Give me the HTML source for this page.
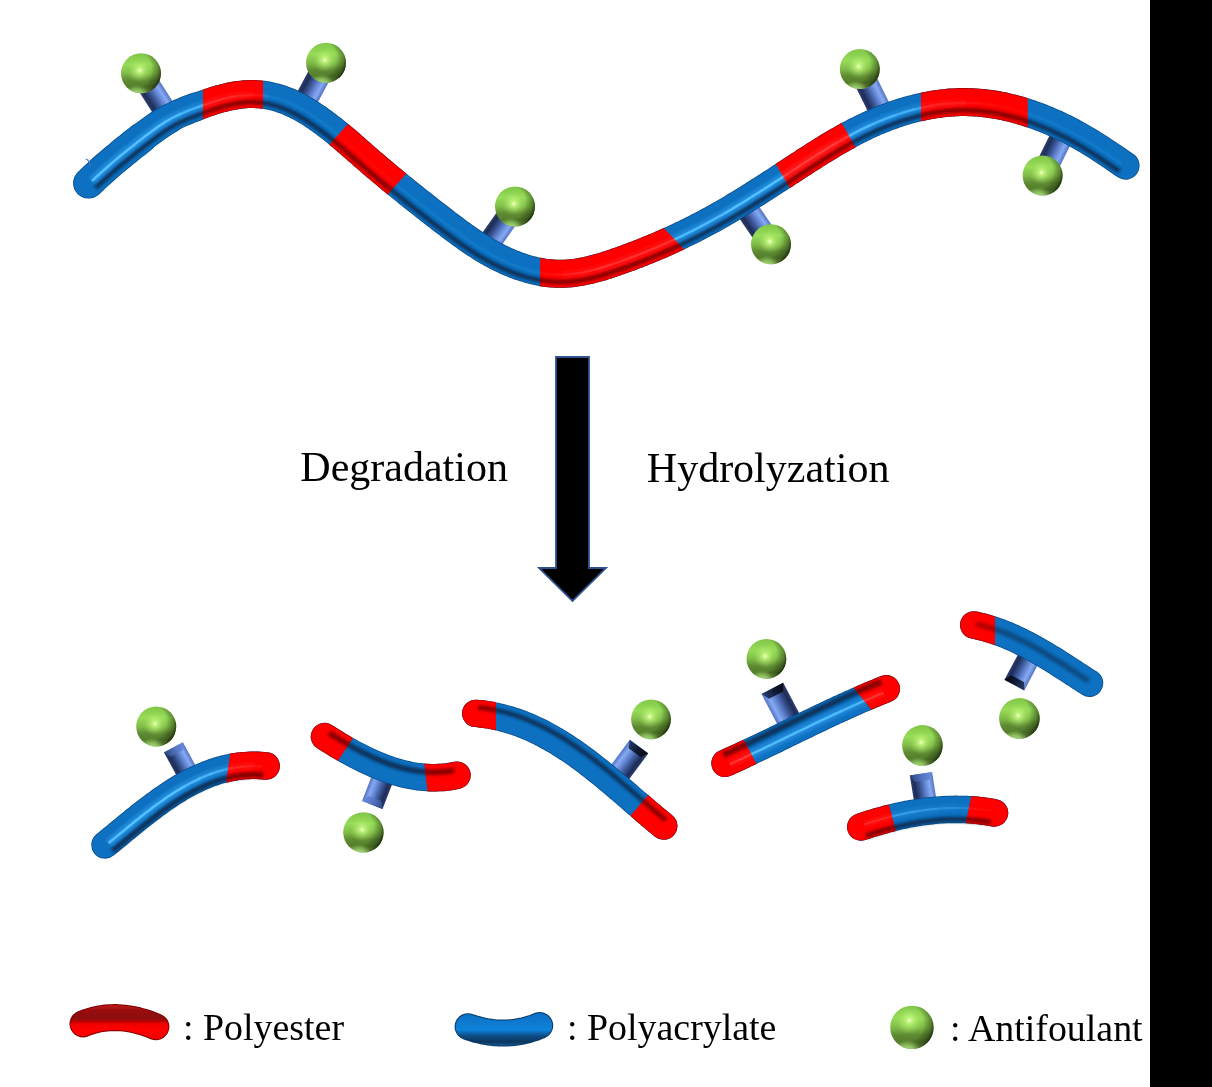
<!DOCTYPE html>
<html><head><meta charset="utf-8"><style>
html,body{margin:0;padding:0;background:#fff;}
body{width:1212px;height:1087px;overflow:hidden;position:relative;}
svg{position:absolute;left:0;top:0;}
text{font-family:"Liberation Serif",serif;fill:#000;}
</style></head><body>
<svg width="1212" height="1087" viewBox="0 0 1212 1087">
<defs>
<filter id="bl1" filterUnits="userSpaceOnUse" x="0" y="0" width="1212" height="1087"><feGaussianBlur stdDeviation="1.6"/></filter>
<filter id="bl05" filterUnits="userSpaceOnUse" x="0" y="0" width="1212" height="1087"><feGaussianBlur stdDeviation="0.6"/></filter>
<linearGradient id="gbA" x1="0" y1="0" x2="0" y2="1">
  <stop offset="0" stop-color="#82c648"/>
  <stop offset="0.28" stop-color="#96dc58"/>
  <stop offset="0.5" stop-color="#80bc48"/>
  <stop offset="0.68" stop-color="#5e8a32"/>
  <stop offset="0.84" stop-color="#557e2c"/>
  <stop offset="0.93" stop-color="#7cae4a"/>
  <stop offset="1" stop-color="#b4e484"/>
</linearGradient>
<radialGradient id="gbB" cx="0.3" cy="0.4" r="0.76">
  <stop offset="0" stop-color="#000" stop-opacity="0"/>
  <stop offset="0.6" stop-color="#0a1400" stop-opacity="0"/>
  <stop offset="0.84" stop-color="#1a2a08" stop-opacity="0.45"/>
  <stop offset="1" stop-color="#081000" stop-opacity="0.95"/>
</radialGradient>
<radialGradient id="gbD" cx="0.4" cy="1.1" r="0.45">
  <stop offset="0" stop-color="#c0f090" stop-opacity="0.9"/>
  <stop offset="0.4" stop-color="#a8e078" stop-opacity="0.6"/>
  <stop offset="0.7" stop-color="#90c860" stop-opacity="0"/>
</radialGradient>
<radialGradient id="gbC" cx="0.47" cy="0.43" r="0.3">
  <stop offset="0" stop-color="#f6ffcc" stop-opacity="1"/>
  <stop offset="0.22" stop-color="#d0ff8a" stop-opacity="0.75"/>
  <stop offset="1" stop-color="#a0e060" stop-opacity="0"/>
</radialGradient>
<radialGradient id="gbC2" cx="0.44" cy="0.34" r="0.32">
  <stop offset="0" stop-color="#f0ffc0" stop-opacity="1"/>
  <stop offset="0.25" stop-color="#c8ff84" stop-opacity="0.7"/>
  <stop offset="1" stop-color="#a0e060" stop-opacity="0"/>
</radialGradient>
<linearGradient id="glr" gradientUnits="userSpaceOnUse" x1="0" y1="1005" x2="0" y2="1040">
  <stop offset="0" stop-color="#c01a1a"/>
  <stop offset="0.15" stop-color="#9a0e0e"/>
  <stop offset="0.38" stop-color="#8a0a0a"/>
  <stop offset="0.55" stop-color="#f00000"/>
  <stop offset="0.7" stop-color="#ff0505"/>
  <stop offset="1" stop-color="#f00000"/>
</linearGradient>
<linearGradient id="glb" gradientUnits="userSpaceOnUse" x1="0" y1="1013" x2="0" y2="1047">
  <stop offset="0" stop-color="#0a70c4"/>
  <stop offset="0.3" stop-color="#0c7ad0"/>
  <stop offset="0.5" stop-color="#0e82dc"/>
  <stop offset="0.66" stop-color="#0a4f88"/>
  <stop offset="0.85" stop-color="#07355e"/>
  <stop offset="1" stop-color="#1868a8"/>
</linearGradient>
<linearGradient id="gcap" x1="0" y1="0" x2="0" y2="1">
  <stop offset="0" stop-color="#6a8fdc"/>
  <stop offset="0.45" stop-color="#5576c4"/>
  <stop offset="1" stop-color="#2c4680"/>
</linearGradient>
<linearGradient id="gcapr" x1="0" y1="1" x2="0" y2="0">
  <stop offset="0" stop-color="#6a8fdc"/>
  <stop offset="0.45" stop-color="#5576c4"/>
  <stop offset="1" stop-color="#2c4680"/>
</linearGradient>
<linearGradient id="gcapd" x1="0" y1="0" x2="0" y2="1">
  <stop offset="0" stop-color="#2a4070"/>
  <stop offset="0.5" stop-color="#121c36"/>
  <stop offset="1" stop-color="#04060c"/>
</linearGradient>
<linearGradient id="gcapdr" x1="0" y1="1" x2="0" y2="0">
  <stop offset="0" stop-color="#2a4070"/>
  <stop offset="0.5" stop-color="#121c36"/>
  <stop offset="1" stop-color="#04060c"/>
</linearGradient>
<linearGradient id="gstick" x1="0" y1="0" x2="0" y2="1">
  <stop offset="0" stop-color="#5472c4"/>
  <stop offset="0.2" stop-color="#86aaf2"/>
  <stop offset="0.38" stop-color="#6688d6"/>
  <stop offset="0.62" stop-color="#3a5696"/>
  <stop offset="0.85" stop-color="#1e2d58"/>
  <stop offset="1" stop-color="#2c3c6c"/>
</linearGradient>
<linearGradient id="gstickr" x1="0" y1="1" x2="0" y2="0">
  <stop offset="0" stop-color="#5472c4"/>
  <stop offset="0.2" stop-color="#86aaf2"/>
  <stop offset="0.38" stop-color="#6688d6"/>
  <stop offset="0.62" stop-color="#3a5696"/>
  <stop offset="0.85" stop-color="#1e2d58"/>
  <stop offset="1" stop-color="#2c3c6c"/>
</linearGradient>
<path id="p1" d="M88.6 183.1L90.7 181.1L92.9 179.0L95.1 176.9L97.3 174.9L99.5 172.9L101.8 170.8L104.0 168.8L106.2 166.8L108.5 164.9L110.8 162.9L113.1 160.9L115.4 159.0L117.7 157.1L120.0 155.2L122.3 153.2L124.6 151.3L127.0 149.5L129.3 147.6L131.7 145.7L134.0 143.8L136.4 142.0L138.8 140.1L141.1 138.3"/>
<path id="p2" d="M88.6 183.1L90.7 181.1L92.9 179.0L95.1 176.9L97.3 174.9L99.5 172.9L101.8 170.8L104.0 168.8L106.2 166.8L108.5 164.9L110.8 162.9L113.1 160.9L115.4 159.0L117.7 157.1L120.0 155.2L122.3 153.2L124.6 151.3L127.0 149.5L129.3 147.6L131.7 145.7L134.0 143.8L136.4 142.0L138.8 140.1L141.1 138.3L143.5 136.5L145.9 134.6L148.3 132.8L150.7 131.0L153.1 129.2L155.6 127.4L158.0 125.7L160.5 124.0L163.0 122.4L165.6 120.8L168.2 119.3"/>
<path id="p3" d="M88.6 183.1L90.7 181.1L92.9 179.0L95.1 176.9L97.3 174.9L99.5 172.9L101.8 170.8L104.0 168.8L106.2 166.8L108.5 164.9L110.8 162.9L113.1 160.9L115.4 159.0L117.7 157.1L120.0 155.2L122.3 153.2L124.6 151.3L127.0 149.5L129.3 147.6L131.7 145.7L134.0 143.8L136.4 142.0L138.8 140.1L141.1 138.3L143.5 136.5L145.9 134.6L148.3 132.8L150.7 131.0L153.1 129.2L155.6 127.4L158.0 125.7L160.5 124.0L163.0 122.4L165.6 120.8L168.2 119.3L170.8 117.8L173.4 116.4L176.1 115.0L178.8 113.7L181.6 112.5L184.4 111.3L187.1 110.2L189.9 109.1L192.8 108.1L195.6 107.0"/>
<path id="p4" d="M88.6 183.1L90.7 181.1L92.9 179.0L95.1 176.9L97.3 174.9L99.5 172.9L101.8 170.8L104.0 168.8L106.2 166.8L108.5 164.9L110.8 162.9L113.1 160.9L115.4 159.0L117.7 157.1L120.0 155.2L122.3 153.2L124.6 151.3L127.0 149.5L129.3 147.6L131.7 145.7L134.0 143.8L136.4 142.0L138.8 140.1L141.1 138.3L143.5 136.5L145.9 134.6L148.3 132.8L150.7 131.0L153.1 129.2L155.6 127.4L158.0 125.7L160.5 124.0L163.0 122.4L165.6 120.8L168.2 119.3L170.8 117.8L173.4 116.4L176.1 115.0L178.8 113.7L181.6 112.5L184.4 111.3L187.1 110.2L189.9 109.1L192.8 108.1L195.6 107.0L198.4 106.0L201.2 105.0L204.1 104.0L206.9 103.0L209.8 102.1L212.6 101.1L215.5 100.2L218.4 99.3L221.3 98.5L224.2 97.8L227.1 97.1L230.0 96.4L233.0 95.9L235.9 95.4L238.9 94.9L241.9 94.6L244.9 94.3L247.9 94.1L250.9 94.0L253.9 94.1L256.9 94.2L259.9 94.4L262.9 94.7L265.9 95.1L268.8 95.6L271.8 96.3L274.7 97.0L277.6 97.8L280.5 98.7L283.3 99.7L286.1 100.8L288.9 101.9L291.6 103.1L294.4 104.4L297.1 105.8L299.7 107.1L302.4 108.6L305.0 110.1L307.5 111.6L310.1 113.2L312.6 114.8L315.1 116.5L317.6 118.2L320.1 119.9L322.5 121.7L324.9 123.4L327.3 125.3L329.7 127.1L332.1 128.9L334.4 130.8L336.8 132.7L339.1 134.6L341.4 136.5L343.7 138.5L346.0 140.4L348.3 142.4L350.6 144.4L352.8 146.3L355.1 148.3L357.3 150.3L359.6 152.3L361.9 154.3L364.1 156.3L366.4 158.2L368.7 160.2L370.9 162.2L373.2 164.1L375.5 166.1L377.8 168.0L380.1 170.0L382.4 171.9L384.7 173.8L387.0 175.8L389.3 177.7L391.6 179.6L393.9 181.5L396.3 183.4L398.6 185.3L400.9 187.2L403.3 189.1L405.6 191.0L407.9 192.9L410.3 194.8L412.6 196.6L415.0 198.5L417.4 200.4L419.7 202.2L422.1 204.1L424.4 206.0L426.8 207.8L429.2 209.7L431.5 211.5L433.9 213.4L436.3 215.2L438.7 217.1L441.0 218.9L443.4 220.7L445.8 222.6L448.2 224.4L450.6 226.2L453.0 228.0L455.4 229.8L457.8 231.6L460.2 233.4L462.7 235.1L465.1 236.9L467.6 238.6L470.1 240.3L472.5 242.0L475.1 243.7L477.6 245.3L480.1 246.9L482.7 248.5L485.3 250.0L487.8 251.6L490.5 253.0L493.1 254.5L495.7 255.9L498.4 257.3L501.1 258.6L503.8 259.9L506.6 261.2L509.3 262.4L512.1 263.5L514.9 264.6L517.7 265.7L520.5 266.7L523.4 267.6L526.3 268.5L529.1 269.4L532.1 270.1L535.0 270.9L537.9 271.5L540.9 272.1L543.8 272.6L546.8 273.0L549.8 273.3L552.8 273.6L555.8 273.7L558.8 273.8L561.8 273.8L564.8 273.7L567.8 273.6L570.8 273.3L573.8 273.0L576.8 272.5L579.7 272.1L582.7 271.5L585.6 270.9L588.6 270.3L591.5 269.6L594.4 268.8L597.3 268.0L600.2 267.2L603.1 266.4L606.0 265.5L608.8 264.5L611.7 263.6L614.5 262.6L617.4 261.6L620.2 260.6L623.0 259.6L625.8 258.6L628.7 257.6L631.5 256.5L634.3 255.4L637.1 254.4L639.9 253.3L642.7 252.2L645.5 251.0L648.3 249.9L651.1 248.8L653.8 247.6L656.6 246.5L659.4 245.3L662.1 244.1L664.9 242.9L667.6 241.6L670.4 240.4L673.1 239.2L675.8 237.9L678.5 236.6L681.3 235.3L684.0 234.0L686.7 232.7L689.4 231.4L692.1 230.0L694.7 228.7L697.4 227.3L700.1 225.9L702.7 224.5L705.4 223.1L708.0 221.7L710.7 220.2L713.3 218.8L715.9 217.3L718.6 215.8L721.2 214.3L723.8 212.8L726.4 211.3L729.0 209.8L731.6 208.3L734.1 206.7L736.7 205.2L739.3 203.6L741.9 202.1L744.4 200.5L747.0 198.9L749.5 197.3L752.1 195.7L754.6 194.1L757.2 192.5L759.7 190.9L762.2 189.3L764.8 187.7L767.3 186.0L769.8 184.4L772.3 182.8L774.9 181.1L777.4 179.5L779.9 177.9L782.4 176.2L784.9 174.6L787.5 172.9L790.0 171.3L792.5 169.6L795.0 168.0L797.5 166.3L800.0 164.7L802.6 163.1L805.1 161.4L807.6 159.8L810.1 158.2L812.7 156.6L815.2 154.9L817.8 153.3L820.3 151.7L822.9 150.2L825.4 148.6L828.0 147.0L830.6 145.5L833.1 143.9L835.7 142.4L838.3 140.9L841.0 139.4L843.6 137.9L846.2 136.5L848.8 135.0L851.5 133.6L854.1 132.2L856.8 130.8L859.5 129.5L862.2 128.1L864.9 126.8L867.6 125.5L870.3 124.3L873.1 123.0L875.8 121.8L878.6 120.6L881.4 119.5L884.2 118.4L887.0 117.3L889.8 116.2L892.6 115.2L895.4 114.2L898.3 113.3L901.2 112.3L904.0 111.4L906.9 110.6L909.8 109.8L912.7 109.0L915.6 108.3L918.5 107.5L921.5 106.9L924.4 106.3L927.4 105.7L930.3 105.1L933.3 104.6L936.3 104.2L939.2 103.8L942.2 103.4L945.2 103.1L948.2 102.8L951.2 102.5L954.2 102.4L957.2 102.2L960.2 102.1L963.2 102.1L966.2 102.1L969.2 102.2L972.2 102.3L975.2 102.4L978.2 102.6L981.2 102.9L984.2 103.2L987.2 103.6L990.2 104.0L993.2 104.4L996.1 104.9L999.1 105.4L1002.0 106.0L1005.0 106.6L1007.9 107.3L1010.8 108.0L1013.8 108.7L1016.7 109.5L1019.6 110.3L1022.4 111.2L1025.3 112.0L1028.2 113.0L1031.0 113.9L1033.9 114.9L1036.7 115.9L1039.5 117.0L1042.3 118.0L1045.1 119.2L1047.9 120.3L1050.7 121.5L1053.4 122.7L1056.1 123.9L1058.9 125.2L1061.6 126.5L1064.3 127.8L1067.0 129.2L1069.7 130.5L1072.3 131.9L1075.0 133.4L1077.6 134.8L1080.2 136.3L1082.8 137.8L1085.4 139.3L1088.0 140.9L1090.6 142.4L1093.1 144.0L1095.7 145.6L1098.2 147.2L1100.7 148.9L1103.2 150.5L1105.7 152.2L1108.2 153.8L1110.7 155.5L1113.2 157.2L1115.7 158.9L1118.2 160.6L1120.7 162.3L1123.1 164.0L1125.6 165.7"/>
<path id="p5" d="M95.6 187.6L96.3 186.9L98.5 184.9L100.6 182.9L102.8 180.9L105.0 178.9L107.2 176.9L109.4 174.9L111.6 172.9L113.8 171.0L116.1 169.1L118.3 167.1L120.6 165.2L122.9 163.3L125.2 161.4L127.5 159.5L129.8 157.6L132.1 155.8L134.4 153.9L136.7 152.1L139.1 150.2L141.4 148.4L143.7 146.5L146.1 144.7L148.5 142.9L150.8 141.1L153.2 139.3L155.6 137.5L157.9 135.8L160.3 134.1L162.6 132.4L165.0 130.8L167.4 129.2L169.8 127.7L172.2 126.3L174.7 124.9L177.1 123.6L179.7 122.3L182.2 121.1L184.8 120.0L187.5 118.8L190.1 117.8L192.8 116.7L195.6 115.7L198.3 114.7L201.1 113.7L203.9 112.7L206.7 111.7L209.6 110.7L212.4 109.8L215.1 108.9L217.9 108.0L220.6 107.1L223.4 106.4L226.1 105.6L228.9 105.0L231.7 104.4L234.4 103.8L237.2 103.4L240.0 103.0L242.7 102.7L245.5 102.4L248.3 102.2L251.0 102.2L253.8 102.2L256.5 102.3L259.2 102.5L261.9 102.7L264.6 103.1L267.3 103.6L269.9 104.2L272.6 104.8L275.3 105.6L277.9 106.4L280.5 107.3L283.1 108.3L285.7 109.4L288.3 110.5L290.8 111.7L293.4 113.0L295.9 114.3L298.4 115.7L300.9 117.1L303.3 118.6L305.8 120.1L308.2 121.6L310.6 123.2L313.0 124.9L315.4 126.5L317.7 128.2L320.1 130.0L322.4 131.7L324.8 133.5L327.1 135.3L329.4 137.1L331.6 139.0L333.9 140.9L336.2 142.8L338.5 144.7L340.7 146.6L343.0 148.5L345.2 150.5L347.5 152.5L349.7 154.4L352.0 156.4L354.2 158.4L356.5 160.4L358.8 162.4L361.0 164.4L363.3 166.3L365.6 168.3L367.9 170.3L370.2 172.3L372.5 174.2L374.8 176.2L377.1 178.1L379.5 180.1L381.8 182.0L384.1 183.9L386.4 185.9L388.8 187.8L391.1 189.7L393.5 191.6L395.8 193.5L398.2 195.4L400.5 197.3L402.9 199.2L405.2 201.1L407.6 203.0L409.9 204.9L412.3 206.7L414.7 208.6L417.0 210.5L419.4 212.3L421.8 214.2L424.2 216.1L426.5 217.9L428.9 219.8L431.3 221.6L433.7 223.5L436.1 225.3L438.5 227.2L440.9 229.0L443.3 230.8L445.7 232.7L448.1 234.5L450.5 236.3L453.0 238.1L455.5 240.0L457.9 241.7L460.4 243.5L462.9 245.3L465.5 247.0L468.0 248.7L470.6 250.5L473.2 252.1L475.8 253.8L478.4 255.4L481.1 257.0L483.8 258.6L486.5 260.1L489.2 261.6L492.0 263.1L494.8 264.5L497.6 265.9L500.4 267.3L503.2 268.6L506.1 269.8L509.0 271.0L512.0 272.2L514.9 273.3L517.9 274.4L520.9 275.4L523.9 276.3L527.0 277.2L530.1 278.0L533.2 278.8L536.3 279.4L539.4 280.1L542.6 280.6L545.8 281.0L549.0 281.4L552.2 281.7L555.4 281.9L558.7 282.0L561.9 281.9L565.2 281.8L568.4 281.7L571.6 281.4L574.8 281.0L578.0 280.6L581.1 280.1L584.2 279.5L587.3 278.9L590.4 278.2L593.5 277.5L596.5 276.7L599.5 275.9L602.5 275.0L605.5 274.1L608.4 273.2L611.3 272.3L614.3 271.3L617.2 270.3L620.0 269.3L622.9 268.3L625.8 267.3L628.6 266.2L631.5 265.2L634.3 264.1L637.2 263.0L640.0 261.9L642.9 260.8L645.7 259.7L648.5 258.6L651.3 257.4L654.2 256.3L657.0 255.1L659.8 253.9L662.6 252.7L665.4 251.5L668.2 250.3L670.9 249.0L673.7 247.8L676.5 246.5L679.3 245.2L682.0 244.0L684.8 242.6L687.5 241.3L690.3 240.0L693.0 238.6L695.7 237.3L698.4 235.9L701.1 234.5L703.8 233.1L706.5 231.7L709.2 230.2L711.9 228.8L714.6 227.3L717.3 225.9L719.9 224.4L722.6 222.9L725.2 221.4L727.8 219.9L730.5 218.3L733.1 216.8L735.7 215.2L738.3 213.7L740.9 212.1L743.5 210.6L746.1 209.0L748.7 207.4L751.2 205.8L753.8 204.2L756.4 202.6L758.9 201.0L761.5 199.4L764.1 197.8L766.6 196.1L769.2 194.5L771.7 192.9L774.2 191.2L776.8 189.6L779.3 188.0L781.8 186.3L784.3 184.7L786.9 183.0L789.4 181.4L791.9 179.7L794.4 178.1L796.9 176.4L799.4 174.8L802.0 173.1L804.5 171.5L807.0 169.9L809.5 168.2L812.0 166.6L814.5 165.0L817.0 163.4L819.5 161.8L822.1 160.2L824.6 158.6L827.1 157.1L829.7 155.5L832.2 154.0L834.7 152.4L837.3 150.9L839.8 149.4L842.4 147.9L845.0 146.5L847.5 145.0L850.1 143.6L852.7 142.2L855.3 140.8L857.9 139.4L860.5 138.1L863.1 136.7L865.8 135.4L868.4 134.1L871.1 132.9L873.7 131.7L876.4 130.5L879.1 129.3L881.7 128.1L884.4 127.0L887.1 125.9L889.9 124.9L892.6 123.8L895.3 122.9L898.1 121.9L900.8 121.0L903.6 120.1L906.4 119.2L909.2 118.4L912.0 117.6L914.8 116.9L917.6 116.1L920.4 115.5L923.2 114.8L926.1 114.2L928.9 113.6L931.7 113.1L934.6 112.6L937.4 112.2L940.3 111.8L943.2 111.4L946.0 111.1L948.9 110.9L951.8 110.6L954.6 110.5L957.5 110.3L960.4 110.2L963.3 110.2L966.1 110.2L969.0 110.3L971.9 110.4L974.7 110.5L977.6 110.7L980.5 111.0L983.3 111.3L986.2 111.6L989.0 112.0L991.9 112.4L994.7 112.9L997.6 113.4L1000.4 114.0L1003.3 114.6L1006.1 115.2L1008.9 115.9L1011.7 116.6L1014.5 117.3L1017.3 118.1L1020.1 118.9L1022.9 119.8L1025.6 120.7L1028.4 121.6L1031.2 122.5L1033.9 123.5L1036.6 124.6L1039.3 125.6L1042.1 126.7L1044.7 127.8L1047.4 128.9L1050.1 130.1L1052.8 131.3L1055.4 132.5L1058.1 133.8L1060.7 135.1L1063.3 136.4L1065.9 137.7L1068.5 139.1L1071.1 140.5L1073.6 141.9L1076.2 143.3L1078.7 144.8L1081.3 146.3L1083.8 147.8L1086.3 149.3L1088.8 150.9L1091.3 152.5L1093.8 154.0L1096.3 155.7L1098.8 157.3L1101.2 158.9L1103.7 160.6L1106.2 162.2L1108.7 163.9L1111.1 165.6L1113.6 167.3L1116.0 169.0L1118.5 170.7L1119.3 171.3"/>
<path id="p6" d="M92.0 181.0L93.5 179.6L95.7 177.5L97.9 175.5L100.1 173.5L102.3 171.5L104.6 169.5L106.8 167.5L109.1 165.5L111.3 163.5L113.6 161.6L115.9 159.6L118.2 157.7L120.5 155.8L122.8 153.9L125.2 152.0L127.5 150.1L129.8 148.2L132.2 146.4L134.6 144.5L136.9 142.6L139.3 140.8L141.7 139.0L144.0 137.1L146.4 135.3L148.8 133.5L151.2 131.7L153.6 129.9L156.0 128.1L158.5 126.4L161.0 124.7L163.5 123.1L166.0 121.5L168.6 120.0L171.2 118.5"/>
<path id="p7" d="M171.2 118.5L173.8 117.1L176.5 115.8L179.2 114.5L181.9 113.3"/>
<path id="p8" d="M181.9 113.3L184.7 112.1L187.4 111.0L190.2 109.9L193.0 108.9L195.9 107.8L198.7 106.8L201.5 105.8"/>
<path id="p9" d="M201.5 105.8L204.4 104.8L207.2 103.8L210.0 102.9L212.9 101.9L215.7 101.0L218.6 100.2L221.5 99.3L224.4 98.6"/>
<path id="p10" d="M224.4 98.6L227.3 97.9L230.2 97.2L233.1 96.7L236.1 96.2"/>
<path id="p11" d="M236.1 96.2L239.0 95.8L242.0 95.4L245.0 95.2"/>
<path id="p12" d="M245.0 95.2L247.9 95.0L250.9 94.9L253.9 94.9"/>
<path id="p13" d="M253.9 94.9L256.9 95.0L259.8 95.2"/>
<path id="p14" d="M259.8 95.2L262.8 95.5L265.7 95.9L268.7 96.5"/>
<path id="p15" d="M268.7 96.5L271.6 97.1L274.5 97.8L277.3 98.6L280.2 99.5L283.0 100.5L285.8 101.6L288.6 102.7L291.3 103.9L294.0 105.2L296.7 106.5L299.3 107.9L301.9 109.3L304.5 110.8L307.1 112.3L309.7 113.9L312.2 115.5L314.7 117.2L317.1 118.9L319.6 120.6L322.0 122.3L324.4 124.1L326.8 125.9L329.2 127.7L331.6 129.6L333.9 131.5L336.3 133.4L338.6 135.3L340.9 137.2L343.2 139.1L345.5 141.1L347.7 143.0L350.0 145.0L352.3 147.0L354.5 149.0L356.8 150.9L359.0 152.9L361.3 154.9L363.6 156.9L365.8 158.9L368.1 160.8L370.4 162.8L372.7 164.8L374.9 166.7L377.2 168.7L379.5 170.6L381.8 172.6L384.1 174.5L386.4 176.4L388.8 178.3L391.1 180.3L393.4 182.2L395.7 184.1L398.1 186.0L400.4 187.9L402.7 189.8L405.1 191.7L407.4 193.5L409.8 195.4L412.1 197.3L414.5 199.2L416.8 201.0L419.2 202.9L421.6 204.8L423.9 206.6L426.3 208.5L428.7 210.3L431.0 212.2L433.4 214.0L435.8 215.9L438.1 217.7L440.5 219.6L442.9 221.4L445.3 223.2L447.7 225.1L450.1 226.9L452.5 228.7L454.9 230.5L457.3 232.3L459.7 234.1L462.2 235.8L464.6 237.6L467.1 239.3L469.6 241.0L472.1 242.7L474.6 244.4L477.1 246.0L479.7 247.6L482.2 249.2L484.8 250.8L487.4 252.3L490.0 253.8L492.7 255.2L495.4 256.7L498.0 258.0L500.7 259.4L503.5 260.7L506.2 261.9L509.0 263.1L511.8 264.3L514.6 265.4L517.4 266.5L520.3 267.5L523.1 268.4L526.0 269.3L528.9 270.2L531.8 271.0L534.8 271.7L537.7 272.3L540.7 272.9L543.7 273.4"/>
<path id="p16" d="M543.7 273.4L546.7 273.8L549.7 274.2L552.7 274.4"/>
<path id="p17" d="M552.7 274.4L555.8 274.6L558.8 274.7L561.8 274.7"/>
<path id="p18" d="M561.8 274.7L564.8 274.6L567.9 274.4L570.9 274.1"/>
<path id="p19" d="M570.9 274.1L573.9 273.8L576.9 273.4L579.9 272.9"/>
<path id="p20" d="M579.9 272.9L582.9 272.4L585.8 271.8L588.8 271.1L591.7 270.4L594.6 269.6"/>
<path id="p21" d="M594.6 269.6L597.5 268.9L600.4 268.0L603.3 267.2L606.2 266.3L609.1 265.3L611.9 264.4L614.8 263.4L617.6 262.4L620.5 261.4"/>
<path id="p22" d="M620.5 261.4L623.3 260.4L626.1 259.4L629.0 258.3L631.8 257.3L634.6 256.2L637.4 255.1L640.2 254.1L643.0 252.9L645.8 251.8L648.6 250.7L651.4 249.6L654.2 248.4L656.9 247.2L659.7 246.0L662.5 244.8L665.2 243.6L668.0 242.4L670.7 241.2L673.5 239.9"/>
<path id="p23" d="M673.5 239.9L676.2 238.7L678.9 237.4L681.6 236.1L684.3 234.8L687.0 233.5L689.7 232.1L692.4 230.8L695.1 229.4L697.8 228.0L700.5 226.6L703.1 225.2L705.8 223.8L708.4 222.4L711.1 220.9L713.7 219.5L716.3 218.0L719.0 216.5L721.6 215.1L724.2 213.6"/>
<path id="p24" d="M724.2 213.6L726.8 212.0L729.4 210.5L732.0 209.0L734.6 207.4L737.1 205.9L739.7 204.3L742.3 202.8L744.9 201.2L747.4 199.6L750.0 198.0L752.5 196.4L755.1 194.8L757.6 193.2L760.2 191.6L762.7 190.0L765.2 188.4L767.8 186.7L770.3 185.1L772.8 183.5L775.3 181.8L777.8 180.2L780.4 178.6L782.9 176.9L785.4 175.3L787.9 173.6L790.4 172.0L792.9 170.3L795.5 168.7L798.0 167.0L800.5 165.4L803.0 163.8L805.5 162.1L808.1 160.5L810.6 158.9L813.1 157.3L815.7 155.6L818.2 154.0L820.7 152.5L823.3 150.9L825.9 149.3L828.4 147.7L831.0 146.2L833.6 144.7L836.2 143.1L838.8 141.6"/>
<path id="p25" d="M838.8 141.6L841.4 140.1L844.0 138.7L846.6 137.2L849.2 135.8L851.9 134.4L854.5 133.0L857.2 131.6L859.9 130.2L862.6 128.9L865.3 127.6L868.0 126.3L870.7 125.0"/>
<path id="p26" d="M870.7 125.0L873.4 123.8L876.2 122.6L878.9 121.4L881.7 120.3L884.5 119.2L887.3 118.1L890.1 117.0L892.9 116.0L895.7 115.0"/>
<path id="p27" d="M895.7 115.0L898.6 114.1L901.4 113.1L904.3 112.2L907.1 111.4L910.0 110.6L912.9 109.8L915.8 109.1"/>
<path id="p28" d="M915.8 109.1L918.7 108.4L921.7 107.7L924.6 107.1L927.5 106.5L930.5 106.0L933.4 105.5"/>
<path id="p29" d="M933.4 105.5L936.4 105.0L939.4 104.6L942.3 104.2L945.3 103.9L948.3 103.6L951.3 103.4"/>
<path id="p30" d="M951.3 103.4L954.2 103.2L957.2 103.1L960.2 103.0L963.2 102.9L966.2 102.9"/>
<path id="p31" d="M966.2 102.9L969.2 103.0L972.2 103.1L975.2 103.3L978.2 103.5L981.2 103.7"/>
<path id="p32" d="M981.2 103.7L984.1 104.1L987.1 104.4L990.1 104.8L993.0 105.2L996.0 105.7"/>
<path id="p33" d="M996.0 105.7L998.9 106.3L1001.9 106.8L1004.8 107.5L1007.7 108.1L1010.6 108.8L1013.5 109.5L1016.4 110.3L1019.3 111.1L1022.2 112.0L1025.1 112.8L1027.9 113.8L1030.8 114.7L1033.6 115.7L1036.4 116.7L1039.2 117.8L1042.0 118.8L1044.8 119.9L1047.6 121.1L1050.3 122.3L1053.1 123.5L1055.8 124.7L1058.5 126.0L1061.2 127.2L1063.9 128.6L1066.6 129.9L1069.3 131.3L1071.9 132.7L1074.6 134.1L1077.2 135.5L1079.8 137.0L1082.4 138.5L1085.0 140.0L1087.6 141.6L1090.1 143.1L1092.7 144.7L1095.2 146.3L1097.7 147.9L1100.3 149.6L1102.8 151.2L1105.3 152.9L1107.8 154.5L1110.3 156.2L1112.7 157.9L1115.2 159.6L1117.7 161.3L1120.2 163.0L1121.8 164.1"/>
<clipPath id="c34"><polygon points="203.6,65.0 262.2,65.0 262.2,130.0 203.6,130.0"/></clipPath>
<clipPath id="c35"><polygon points="360.7,110.0 419.4,158.8 374.9,209.0 316.1,159.2"/></clipPath>
<clipPath id="c36"><polygon points="540.1,215.0 647.7,210.9 700.7,267.0 540.1,325.0"/></clipPath>
<clipPath id="c37"><polygon points="765.8,147.3 832.3,106.5 865.3,164.5 799.4,204.1"/></clipPath>
<clipPath id="c38"><polygon points="921.0,70.0 1027.7,70.0 1027.7,150.0 921.0,140.0"/></clipPath>
<path id="p39" d="M105.0 844.9L107.3 843.0L109.7 841.1L112.0 839.1L114.4 837.2L116.7 835.3L119.1 833.4L121.4 831.4L123.7 829.5L126.1 827.6L128.4 825.7L130.8 823.8L133.1 821.8L135.5 819.9L137.8 818.0L140.2 816.1L142.6 814.3L145.0 812.4L147.4 810.5L149.8 808.7L152.2 806.9L154.6 805.1L157.1 803.3L159.5 801.5L162.0 799.7L164.5 798.0L167.0 796.3L169.5 794.6L172.0 792.9L174.6 791.3L177.2 789.7L179.7 788.1L182.4 786.6L185.0 785.1L187.6 783.7L190.3 782.2L193.0 780.8L195.7 779.5L198.5 778.2L201.2 777.0L204.0 775.8L206.8 774.6L209.7 773.5L212.5 772.5L215.4 771.6L218.3 770.6L221.2 769.8L224.1 769.0L227.1 768.3L230.0 767.7L233.0 767.1L236.0 766.6L239.0 766.2L242.0 765.9L245.0 765.6L248.0 765.4L251.1 765.3L254.1 765.3L257.1 765.3L260.2 765.5L263.2 765.7L266.2 766.0"/>
<path id="p40" d="M112.4 850.9L113.2 850.2L115.6 848.3L118.0 846.4L120.3 844.5L122.7 842.5L125.0 840.6L127.3 838.7L129.7 836.7L132.0 834.8L134.3 832.9L136.7 831.0L139.0 829.1L141.3 827.2L143.7 825.3L146.0 823.5L148.4 821.6L150.7 819.8L153.1 817.9L155.4 816.1L157.8 814.3L160.2 812.6L162.6 810.8L165.0 809.1L167.4 807.4L169.8 805.7L172.2 804.0L174.6 802.4L177.1 800.8L179.6 799.2L182.0 797.7L184.5 796.2L187.0 794.7L189.6 793.3L192.1 791.9L194.6 790.5L197.2 789.2L199.8 787.9L202.4 786.7L205.0 785.5L207.6 784.4L210.3 783.3L212.9 782.3L215.6 781.3L218.3 780.4L221.0 779.6L223.7 778.8L226.4 778.1L229.1 777.4L231.9 776.8L234.6 776.3L237.4 775.9L240.2 775.5L242.9 775.2L245.7 774.9L248.5 774.7L251.3 774.6L254.1 774.6L256.8 774.7L259.6 774.8L262.5 775.0L263.3 775.1"/>
<path id="p41" d="M108.6 843.0L110.2 841.7L112.6 839.8L114.9 837.9L117.3 835.9L119.6 834.0L121.9 832.1L124.3 830.2L126.6 828.2L128.9 826.3L131.3 824.4L133.6 822.5L136.0 820.6L138.4 818.7L140.7 816.8L143.1 814.9L145.5 813.0L147.9 811.2L150.3 809.4L152.7 807.5L155.1 805.7L157.5 803.9L160.0 802.2L162.5 800.4L164.9 798.7L167.4 797.0L169.9 795.3L172.5 793.6L175.0 792.0L177.6 790.4L180.2 788.9L182.8 787.3L185.4 785.8"/>
<path id="p42" d="M185.4 785.8L188.0 784.4L190.7 783.0L193.4 781.6L196.1 780.3L198.8 779.0L201.6 777.7"/>
<path id="p43" d="M201.6 777.7L204.3 776.5L207.1 775.4L209.9 774.3L212.8 773.3"/>
<path id="p44" d="M212.8 773.3L215.6 772.3L218.5 771.4L221.4 770.6L224.3 769.8"/>
<path id="p45" d="M224.3 769.8L227.2 769.1L230.2 768.5L233.1 767.9L236.1 767.4"/>
<path id="p46" d="M236.1 767.4L239.1 767.0L242.1 766.7L245.1 766.4"/>
<path id="p47" d="M245.1 766.4L248.1 766.2L251.1 766.1L254.1 766.1"/>
<path id="p48" d="M254.1 766.1L257.1 766.2L260.1 766.3L262.1 766.4"/>
<clipPath id="c49"><polygon points="232.1,740.0 292.0,737.7 284.7,792.6 224.7,795.0"/></clipPath>
<path id="p50" d="M324.5 736.6L327.1 738.2L329.6 739.8L332.2 741.4L334.8 743.0L337.3 744.6L339.9 746.1L342.5 747.6L345.1 749.2L347.8 750.7L350.4 752.1L353.0 753.6L355.7 755.0L358.4 756.4L361.1 757.7L363.8 759.1L366.5 760.4L369.2 761.7L372.0 762.9L374.7 764.1L377.5 765.3L380.3 766.4L383.1 767.5L385.9 768.6L388.8 769.6L391.6 770.5L394.5 771.4L397.4 772.3L400.3 773.1L403.2 773.8L406.2 774.5L409.1 775.2L412.1 775.7L415.1 776.2L418.0 776.7L421.0 777.0L424.0 777.3L427.0 777.5L430.1 777.7L433.1 777.7L436.1 777.7L439.1 777.6L442.1 777.5L445.1 777.2L448.1 776.9L451.1 776.4L454.1 775.9L457.0 775.3"/>
<path id="p51" d="M329.2 733.0L330.0 733.6L332.6 735.2L335.1 736.7L337.6 738.3L340.2 739.9L342.7 741.4L345.3 742.9L347.9 744.4L350.5 745.9L353.0 747.3L355.6 748.7L358.3 750.1L360.9 751.5L363.5 752.8L366.2 754.1L368.8 755.4L371.5 756.7L374.2 757.9L376.9 759.1L379.6 760.2L382.3 761.3L385.1 762.4L387.8 763.4L390.6 764.4L393.3 765.3L396.1 766.2L398.9 767.0L401.7 767.8L404.5 768.5L407.4 769.2L410.2 769.8L413.1 770.3L415.9 770.8L418.8 771.2L421.6 771.6L424.5 771.8L427.4 772.0L430.2 772.2L433.1 772.2L436.0 772.2L438.8 772.1L441.7 772.0L444.6 771.7L447.4 771.4L450.2 771.0L453.1 770.5L454.0 770.3"/>
<path id="p52" d="M325.0 743.4L326.7 744.5L329.3 746.1L331.9 747.7L334.5 749.3L337.1 750.8L339.7 752.4L342.4 753.9L345.1 755.4L347.7 756.9L350.4 758.4L353.1 759.8L355.8 761.3L358.6 762.7L361.3 764.0L364.1 765.4L366.9 766.7L369.7 767.9L372.6 769.2L375.4 770.4L378.3 771.5L381.2 772.7L384.1 773.7L387.0 774.8L389.9 775.7L392.9 776.7L395.9 777.6L398.9 778.4L401.9 779.2L405.0 779.9L408.0 780.5L411.1 781.1L414.2 781.7"/>
<path id="p53" d="M414.2 781.7L417.3 782.1L420.4 782.5L423.6 782.8L426.7 783.0"/>
<path id="p54" d="M426.7 783.0L429.9 783.2L433.0 783.2L436.2 783.2"/>
<path id="p55" d="M436.2 783.2L439.3 783.1L442.5 782.9L445.7 782.7"/>
<path id="p56" d="M445.7 782.7L448.8 782.3L451.9 781.9L454.0 781.5"/>
<clipPath id="c57"><polygon points="357.1,731.5 304.1,703.4 280.5,739.1 333.5,767.2"/></clipPath>
<clipPath id="c58"><polygon points="423.9,758.2 483.5,751.1 488.2,792.6 428.6,799.6"/></clipPath>
<path id="p59" d="M475.8 713.4L478.8 713.6L481.8 714.0L484.8 714.4L487.8 714.8L490.8 715.3L493.7 715.9L496.7 716.5L499.6 717.2L502.5 717.9L505.4 718.7L508.3 719.5L511.2 720.4L514.1 721.3L516.9 722.3L519.8 723.3L522.6 724.4L525.4 725.5L528.2 726.6L530.9 727.8L533.7 729.1L536.4 730.4L539.1 731.7L541.8 733.0L544.5 734.4L547.2 735.9L549.8 737.3L552.4 738.8L555.0 740.3L557.6 741.9L560.2 743.5L562.7 745.1L565.3 746.7L567.8 748.3L570.3 750.0L572.8 751.7L575.2 753.4L577.7 755.2L580.1 757.0L582.6 758.7L585.0 760.5L587.4 762.3L589.8 764.2L592.2 766.0L594.5 767.9L596.9 769.7L599.3 771.6L601.6 773.5L603.9 775.4L606.3 777.3L608.6 779.3L610.9 781.2L613.2 783.1L615.5 785.1L617.8 787.0L620.1 789.0L622.4 790.9L624.7 792.9L627.0 794.9L629.3 796.8L631.5 798.8L633.8 800.8L636.1 802.8L638.4 804.7L640.7 806.7L642.9 808.7L645.2 810.6L647.5 812.6L649.8 814.5L652.1 816.5L654.4 818.4L656.7 820.4L659.1 822.3L661.4 824.2L663.7 826.1"/>
<path id="p60" d="M478.4 707.5L479.5 707.6L482.6 708.0L485.7 708.4L488.7 708.8L491.8 709.4L494.9 709.9L498.0 710.6L501.0 711.3L504.0 712.0L507.1 712.8L510.1 713.7L513.0 714.6L516.0 715.6L519.0 716.6L521.9 717.6L524.8 718.7L527.7 719.9L530.6 721.1L533.4 722.3L536.2 723.6L539.0 724.9L541.8 726.3L544.6 727.7L547.3 729.1L550.0 730.5L552.8 732.0L555.4 733.6L558.1 735.1L560.7 736.7L563.4 738.3L566.0 740.0L568.6 741.6L571.1 743.3L573.7 745.0L576.2 746.7L578.7 748.5L581.2 750.3L583.7 752.1L586.2 753.9L588.6 755.7L591.1 757.5L593.5 759.4L595.9 761.2L598.3 763.1L600.7 765.0L603.1 766.9L605.4 768.8L607.8 770.7L610.1 772.7L612.5 774.6L614.8 776.6L617.1 778.5L619.4 780.5L621.7 782.4L624.0 784.4L626.3 786.4L628.6 788.3L630.9 790.3L633.2 792.3L635.5 794.2L637.8 796.2L640.1 798.2L642.3 800.1L644.6 802.1L646.9 804.1L649.2 806.0L651.4 808.0L653.7 809.9L656.0 811.9L658.3 813.8L660.6 815.7L662.9 817.6L665.2 819.5L666.0 820.2"/>
<path id="p61" d="M479.2 719.2L481.1 719.4L484.0 719.8L486.9 720.2L489.8 720.7"/>
<path id="p62" d="M489.8 720.7L492.6 721.3L495.5 721.9L498.3 722.5L501.2 723.2L504.0 724.0L506.8 724.8L509.6 725.6L512.4 726.5L515.1 727.5L517.9 728.5L520.6 729.5L523.3 730.6L526.0 731.7L528.7 732.9L531.4 734.1L534.1 735.3L536.7 736.6L539.3 737.9L541.9 739.3L544.5 740.7L547.1 742.1L549.7 743.6L552.2 745.1L554.7 746.6L557.3 748.1L559.8 749.7L562.3 751.3L564.7 752.9L567.2 754.6L569.6 756.3L572.1 757.9L574.5 759.7L576.9 761.4L579.3 763.2L581.7 764.9L584.1 766.7L586.4 768.5L588.8 770.4L591.1 772.2L593.5 774.1L595.8 775.9L598.1 777.8L600.5 779.7L602.8 781.6L605.1 783.5L607.4 785.4L609.7 787.3L612.0 789.3L614.3 791.2L616.5 793.2L618.8 795.1L621.1 797.1L623.4 799.0L625.7 801.0L627.9 803.0L630.2 805.0L632.5 806.9L634.8 808.9L637.1 810.9L639.4 812.8L641.7 814.8L644.0 816.8L646.3 818.7L648.6 820.7L650.9 822.6L653.2 824.6L655.5 826.5L657.1 827.8"/>
<clipPath id="c63"><polygon points="495.8,690.0 435.9,687.0 435.9,737.0 495.8,740.0"/></clipPath>
<clipPath id="c64"><polygon points="653.7,789.1 699.8,827.6 671.3,860.5 625.3,821.9"/></clipPath>
<path id="p65" d="M725.1 763.3L727.8 762.1L730.6 760.8L733.3 759.6L736.0 758.3L738.8 757.1L741.5 755.8L744.2 754.5L746.9 753.3L749.7 752.0L752.4 750.7L755.1 749.4L757.8 748.1L760.5 746.8L763.3 745.5L766.0 744.2L768.7 742.9L771.4 741.6L774.1 740.3L776.8 739.0L779.5 737.6L782.2 736.3L784.9 735.0L787.6 733.7L790.3 732.4L793.1 731.1L795.8 729.7L798.5 728.4L801.2 727.1L803.9 725.8L806.6 724.5L809.3 723.2L812.0 721.9L814.7 720.6L817.5 719.3L820.2 718.0L822.9 716.7L825.6 715.4L828.3 714.1L831.1 712.8L833.8 711.5L836.5 710.3L839.2 709.0L842.0 707.8L844.7 706.5L847.5 705.3L850.2 704.0L853.0 702.8L855.7 701.6L858.5 700.4L861.2 699.2L864.0 698.0L866.8 696.8L869.5 695.6L872.3 694.5L875.1 693.3L877.9 692.2L880.7 691.0L883.5 689.9L886.3 688.8"/>
<path id="p66" d="M723.5 755.0L724.4 754.6L727.1 753.3L729.9 752.1L732.6 750.8L735.3 749.6L738.0 748.3L740.7 747.1L743.4 745.8L746.2 744.5L748.9 743.2L751.6 742.0L754.3 740.7L757.0 739.4L759.7 738.1L762.4 736.8L765.1 735.5L767.8 734.2L770.5 732.8L773.2 731.5L775.9 730.2L778.6 728.9L781.3 727.6L784.0 726.3L786.7 725.0L789.4 723.6L792.2 722.3L794.9 721.0L797.6 719.7L800.3 718.4L803.0 717.1L805.7 715.7L808.4 714.4L811.2 713.1L813.9 711.8L816.6 710.5L819.4 709.2L822.1 707.9L824.8 706.6L827.6 705.4L830.3 704.1L833.0 702.8L835.8 701.5L838.6 700.3L841.3 699.0L844.1 697.8L846.8 696.5L849.6 695.3L852.4 694.0L855.2 692.8L857.9 691.6L860.7 690.4L863.5 689.2L866.3 688.0L869.1 686.8L871.9 685.7L874.8 684.5L877.6 683.4L880.4 682.3L881.4 681.9"/>
<path id="p67" d="M729.8 764.2L731.7 763.3L734.4 762.1L737.2 760.8"/>
<path id="p68" d="M737.2 760.8L739.9 759.6L742.7 758.3L745.4 757.0L748.1 755.8L750.8 754.5L753.6 753.2L756.3 751.9L759.0 750.6L761.7 749.3L764.5 748.0L767.2 746.7L769.9 745.4L772.6 744.1L775.3 742.7L778.0 741.4L780.7 740.1L783.4 738.8L786.1 737.5L788.8 736.2L791.6 734.8L794.3 733.5L797.0 732.2L799.7 730.9L802.4 729.6L805.1 728.3L807.8 727.0L810.5 725.6L813.2 724.3L815.9 723.0L818.6 721.7L821.4 720.4L824.1 719.2L826.8 717.9L829.5 716.6L832.2 715.3L834.9 714.0L837.7 712.8L840.4 711.5L843.1 710.3"/>
<path id="p69" d="M843.1 710.3L845.9 709.0L848.6 707.8L851.3 706.5L854.1 705.3L856.8 704.1L859.6 702.9L862.3 701.7L865.1 700.5L867.8 699.3L870.6 698.2L873.4 697.0L876.1 695.8L878.9 694.7L881.7 693.6L883.6 692.8"/>
<clipPath id="c70"><polygon points="740.5,733.8 685.9,758.6 704.4,794.5 759.1,769.7"/></clipPath>
<clipPath id="c71"><polygon points="849.2,681.7 905.0,659.5 931.4,692.8 875.7,715.1"/></clipPath>
<path id="p72" d="M973.8 625.0L976.8 625.6L979.7 626.3L982.7 627.0L985.6 627.8L988.5 628.7L991.4 629.5L994.3 630.5L997.2 631.5L1000.0 632.5L1002.9 633.6L1005.7 634.7L1008.5 635.9L1011.3 637.1L1014.0 638.3L1016.8 639.6L1019.5 640.9L1022.2 642.3L1024.9 643.6L1027.6 645.0L1030.3 646.5L1033.0 647.9L1035.6 649.4L1038.2 650.9L1040.9 652.4L1043.5 653.9L1046.1 655.5L1048.7 657.1L1051.3 658.6L1053.8 660.2L1056.4 661.8L1059.0 663.5L1061.5 665.1L1064.1 666.7L1066.6 668.4L1069.2 670.0L1071.7 671.7L1074.3 673.3L1076.8 675.0L1079.3 676.6L1081.9 678.3L1084.4 680.0L1087.0 681.6L1089.5 683.2"/>
<path id="p73" d="M976.1 624.1L977.1 624.3L980.1 625.0L983.0 625.7L986.0 626.5L988.9 627.3L991.8 628.2L994.7 629.2L997.6 630.2L1000.5 631.2L1003.4 632.3L1006.2 633.4L1009.0 634.6L1011.8 635.8L1014.6 637.1L1017.4 638.4L1020.1 639.7L1022.8 641.0L1025.6 642.4L1028.3 643.8L1030.9 645.2L1033.6 646.7L1036.3 648.2L1038.9 649.7L1041.6 651.2L1044.2 652.7L1046.8 654.3L1049.4 655.9L1052.0 657.5L1054.6 659.1L1057.1 660.7L1059.7 662.3L1062.3 663.9L1064.8 665.6L1067.4 667.2L1069.9 668.9L1072.5 670.5L1075.0 672.2L1077.5 673.8L1080.1 675.5L1082.6 677.2L1085.2 678.8L1087.7 680.4L1088.6 681.0"/>
<path id="p74" d="M976.2 632.5L978.1 633.0L981.0 633.7L983.8 634.4L986.6 635.2L989.3 636.1L992.1 637.0L994.9 638.0L997.6 639.0L1000.4 640.0L1003.1 641.1L1005.8 642.2L1008.5 643.4L1011.2 644.6L1013.8 645.8L1016.5 647.1L1019.2 648.4L1021.8 649.7L1024.4 651.1L1027.0 652.5L1029.6 653.9L1032.2 655.4L1034.8 656.8L1037.4 658.3L1040.0 659.8L1042.5 661.4L1045.1 662.9L1047.7 664.5L1050.2 666.1L1052.7 667.7L1055.3 669.3L1057.8 670.9L1060.4 672.5L1062.9 674.2L1065.4 675.8L1068.0 677.4L1070.5 679.1L1073.0 680.7L1075.6 682.4L1078.1 684.1L1080.7 685.7L1082.4 686.8"/>
<clipPath id="c75"><polygon points="994.9,605.0 936.5,591.0 936.5,641.0 994.9,655.0"/></clipPath>
<path id="p76" d="M860.8 827.0L863.7 826.0L866.5 825.1L869.4 824.1L872.3 823.2L875.2 822.4L878.1 821.5L881.0 820.7L883.9 819.9L886.8 819.1L889.8 818.3L892.7 817.6L895.6 816.9L898.6 816.2L901.5 815.5L904.5 814.9L907.4 814.3L910.4 813.8L913.4 813.2L916.4 812.7L919.3 812.3L922.3 811.8L925.3 811.4L928.3 811.0L931.3 810.7L934.3 810.4L937.4 810.1L940.4 809.9L943.4 809.7L946.4 809.6L949.4 809.4L952.4 809.4L955.5 809.3L958.5 809.4L961.5 809.4L964.5 809.5L967.5 809.6L970.6 809.8L973.6 810.0L976.6 810.3L979.6 810.6L982.6 811.0L985.6 811.4L988.6 811.8L991.5 812.3L994.5 812.9"/>
<path id="p77" d="M865.9 835.7L866.8 835.4L869.6 834.5L872.4 833.6L875.2 832.7L878.0 831.8L880.9 831.0L883.7 830.2L886.5 829.4L889.4 828.6L892.2 827.9L895.0 827.2L897.9 826.5L900.8 825.9L903.6 825.2L906.5 824.6L909.3 824.0L912.2 823.5L915.1 823.0L918.0 822.5L920.8 822.0L923.7 821.6L926.6 821.2L929.5 820.9L932.4 820.5L935.3 820.3L938.2 820.0L941.0 819.8L943.9 819.6L946.8 819.5L949.7 819.3L952.6 819.3L955.5 819.2L958.4 819.3L961.3 819.3L964.1 819.4L967.0 819.5L969.9 819.7L972.8 819.9L975.6 820.2L978.5 820.5L981.3 820.8L984.2 821.2L987.0 821.6L989.9 822.1L990.8 822.3"/>
<path id="p78" d="M864.2 824.4L866.1 823.8L869.0 822.8L871.9 821.9L874.8 821.0L877.7 820.2L880.6 819.3L883.6 818.5L886.5 817.7L889.4 817.0"/>
<path id="p79" d="M889.4 817.0L892.4 816.2L895.3 815.5L898.3 814.9L901.2 814.2L904.2 813.6L907.2 813.0L910.2 812.4L913.1 811.9L916.1 811.4"/>
<path id="p80" d="M916.1 811.4L919.1 810.9L922.1 810.5L925.2 810.0L928.2 809.7L931.2 809.3L934.2 809.0L937.2 808.8"/>
<path id="p81" d="M937.2 808.8L940.3 808.5L943.3 808.3L946.3 808.2L949.4 808.1L952.4 808.0L955.5 808.0L958.5 808.0"/>
<path id="p82" d="M958.5 808.0L961.5 808.0L964.6 808.1L967.6 808.3L970.6 808.4L973.7 808.7L976.7 808.9"/>
<path id="p83" d="M976.7 808.9L979.7 809.3L982.8 809.6L985.8 810.0L988.8 810.5L990.8 810.8"/>
<clipPath id="c84"><polygon points="887.0,797.7 829.1,813.5 839.8,855.0 897.7,839.1"/></clipPath>
<clipPath id="c85"><polygon points="973.0,788.7 1032.5,796.6 1023.8,838.2 964.4,830.3"/></clipPath></defs>
<rect x="0" y="0" width="1212" height="1087" fill="#fff"/>
<g transform="translate(141.0,73.3) rotate(57.4)"><rect x="0" y="-11.5" width="48.3" height="23" fill="url(#gstick)"/></g>
<g transform="translate(326.0,62.8) rotate(118.3)"><rect x="0" y="-11.5" width="42.2" height="23" fill="url(#gstick)"/></g>
<g transform="translate(515.0,206.5) rotate(125.2)"><rect x="0" y="-11.5" width="43.4" height="23" fill="url(#gstick)"/></g>
<g transform="translate(771.0,244.3) rotate(-124.4)"><rect x="0" y="-11.5" width="41.6" height="23" fill="url(#gstickr)"/></g>
<g transform="translate(859.8,69.1) rotate(63.7)"><rect x="0" y="-11.5" width="47.9" height="23" fill="url(#gstick)"/></g>
<g transform="translate(1042.6,175.5) rotate(-63.8)"><rect x="0" y="-11.5" width="44.0" height="23" fill="url(#gstickr)"/></g>
<g fill="none" stroke-linecap="round" stroke-linejoin="round">
<use href="#p4" stroke="#0a4f8c" stroke-width="28"/>
<use href="#p1" stroke="#0a4f8c" stroke-width="31.0"/>
<use href="#p2" stroke="#0a4f8c" stroke-width="30.0"/>
<use href="#p3" stroke="#0a4f8c" stroke-width="29.0"/>
<use href="#p4" stroke="#0f6fc0" stroke-width="26.4" filter="url(#bl05)"/>
<use href="#p1" stroke="#0f6fc0" stroke-width="29.4" filter="url(#bl05)"/>
<use href="#p2" stroke="#0f6fc0" stroke-width="28.4" filter="url(#bl05)"/>
<use href="#p3" stroke="#0f6fc0" stroke-width="27.4" filter="url(#bl05)"/>
<use href="#p5" stroke="#082c50" stroke-width="4.8" stroke-linecap="butt" filter="url(#bl1)" opacity="0.9"/>
<g filter="url(#bl1)"><use href="#p6" stroke="#2a94e6" stroke-width="9.1" stroke-linecap="butt" opacity="0.70"/><use href="#p7" stroke="#2a94e6" stroke-width="9.1" stroke-linecap="butt" opacity="0.63"/><use href="#p8" stroke="#2a94e6" stroke-width="9.1" stroke-linecap="butt" opacity="0.56"/><use href="#p9" stroke="#2a94e6" stroke-width="9.1" stroke-linecap="butt" opacity="0.49"/><use href="#p10" stroke="#2a94e6" stroke-width="9.1" stroke-linecap="butt" opacity="0.42"/><use href="#p11" stroke="#2a94e6" stroke-width="9.1" stroke-linecap="butt" opacity="0.35"/><use href="#p12" stroke="#2a94e6" stroke-width="9.1" stroke-linecap="butt" opacity="0.28"/><use href="#p13" stroke="#2a94e6" stroke-width="9.1" stroke-linecap="butt" opacity="0.21"/><use href="#p14" stroke="#2a94e6" stroke-width="9.1" stroke-linecap="butt" opacity="0.14"/><use href="#p15" stroke="#2a94e6" stroke-width="9.1" stroke-linecap="butt" opacity="0.07"/><use href="#p16" stroke="#2a94e6" stroke-width="9.1" stroke-linecap="butt" opacity="0.14"/><use href="#p17" stroke="#2a94e6" stroke-width="9.1" stroke-linecap="butt" opacity="0.21"/><use href="#p18" stroke="#2a94e6" stroke-width="9.1" stroke-linecap="butt" opacity="0.28"/><use href="#p19" stroke="#2a94e6" stroke-width="9.1" stroke-linecap="butt" opacity="0.35"/><use href="#p20" stroke="#2a94e6" stroke-width="9.1" stroke-linecap="butt" opacity="0.42"/><use href="#p21" stroke="#2a94e6" stroke-width="9.1" stroke-linecap="butt" opacity="0.49"/><use href="#p22" stroke="#2a94e6" stroke-width="9.1" stroke-linecap="butt" opacity="0.56"/><use href="#p23" stroke="#2a94e6" stroke-width="9.1" stroke-linecap="butt" opacity="0.63"/><use href="#p24" stroke="#2a94e6" stroke-width="9.1" stroke-linecap="butt" opacity="0.70"/><use href="#p25" stroke="#2a94e6" stroke-width="9.1" stroke-linecap="butt" opacity="0.63"/><use href="#p26" stroke="#2a94e6" stroke-width="9.1" stroke-linecap="butt" opacity="0.56"/><use href="#p27" stroke="#2a94e6" stroke-width="9.1" stroke-linecap="butt" opacity="0.49"/><use href="#p28" stroke="#2a94e6" stroke-width="9.1" stroke-linecap="butt" opacity="0.42"/><use href="#p29" stroke="#2a94e6" stroke-width="9.1" stroke-linecap="butt" opacity="0.35"/><use href="#p30" stroke="#2a94e6" stroke-width="9.1" stroke-linecap="butt" opacity="0.28"/><use href="#p31" stroke="#2a94e6" stroke-width="9.1" stroke-linecap="butt" opacity="0.21"/><use href="#p32" stroke="#2a94e6" stroke-width="9.1" stroke-linecap="butt" opacity="0.14"/><use href="#p33" stroke="#2a94e6" stroke-width="9.1" stroke-linecap="butt" opacity="0.07"/></g>
<g filter="url(#bl05)"><use href="#p6" stroke="#52c0ff" stroke-width="2.5" stroke-linecap="butt" opacity="1.00"/><use href="#p7" stroke="#52c0ff" stroke-width="2.5" stroke-linecap="butt" opacity="0.90"/><use href="#p8" stroke="#52c0ff" stroke-width="2.5" stroke-linecap="butt" opacity="0.80"/><use href="#p9" stroke="#52c0ff" stroke-width="2.5" stroke-linecap="butt" opacity="0.70"/><use href="#p10" stroke="#52c0ff" stroke-width="2.5" stroke-linecap="butt" opacity="0.60"/><use href="#p11" stroke="#52c0ff" stroke-width="2.5" stroke-linecap="butt" opacity="0.50"/><use href="#p12" stroke="#52c0ff" stroke-width="2.5" stroke-linecap="butt" opacity="0.40"/><use href="#p13" stroke="#52c0ff" stroke-width="2.5" stroke-linecap="butt" opacity="0.30"/><use href="#p14" stroke="#52c0ff" stroke-width="2.5" stroke-linecap="butt" opacity="0.20"/><use href="#p15" stroke="#52c0ff" stroke-width="2.5" stroke-linecap="butt" opacity="0.10"/><use href="#p16" stroke="#52c0ff" stroke-width="2.5" stroke-linecap="butt" opacity="0.20"/><use href="#p17" stroke="#52c0ff" stroke-width="2.5" stroke-linecap="butt" opacity="0.30"/><use href="#p18" stroke="#52c0ff" stroke-width="2.5" stroke-linecap="butt" opacity="0.40"/><use href="#p19" stroke="#52c0ff" stroke-width="2.5" stroke-linecap="butt" opacity="0.50"/><use href="#p20" stroke="#52c0ff" stroke-width="2.5" stroke-linecap="butt" opacity="0.60"/><use href="#p21" stroke="#52c0ff" stroke-width="2.5" stroke-linecap="butt" opacity="0.70"/><use href="#p22" stroke="#52c0ff" stroke-width="2.5" stroke-linecap="butt" opacity="0.80"/><use href="#p23" stroke="#52c0ff" stroke-width="2.5" stroke-linecap="butt" opacity="0.90"/><use href="#p24" stroke="#52c0ff" stroke-width="2.5" stroke-linecap="butt" opacity="1.00"/><use href="#p25" stroke="#52c0ff" stroke-width="2.5" stroke-linecap="butt" opacity="0.90"/><use href="#p26" stroke="#52c0ff" stroke-width="2.5" stroke-linecap="butt" opacity="0.80"/><use href="#p27" stroke="#52c0ff" stroke-width="2.5" stroke-linecap="butt" opacity="0.70"/><use href="#p28" stroke="#52c0ff" stroke-width="2.5" stroke-linecap="butt" opacity="0.60"/><use href="#p29" stroke="#52c0ff" stroke-width="2.5" stroke-linecap="butt" opacity="0.50"/><use href="#p30" stroke="#52c0ff" stroke-width="2.5" stroke-linecap="butt" opacity="0.40"/><use href="#p31" stroke="#52c0ff" stroke-width="2.5" stroke-linecap="butt" opacity="0.30"/><use href="#p32" stroke="#52c0ff" stroke-width="2.5" stroke-linecap="butt" opacity="0.20"/><use href="#p33" stroke="#52c0ff" stroke-width="2.5" stroke-linecap="butt" opacity="0.10"/></g>
</g>
<g fill="none" stroke-linecap="round" stroke-linejoin="round" clip-path="url(#c34)">
<use href="#p4" stroke="#c00000" stroke-width="28"/>
<use href="#p1" stroke="#c00000" stroke-width="31.0"/>
<use href="#p2" stroke="#c00000" stroke-width="30.0"/>
<use href="#p3" stroke="#c00000" stroke-width="29.0"/>
<use href="#p4" stroke="#ff0303" stroke-width="26.4" filter="url(#bl05)"/>
<use href="#p1" stroke="#ff0303" stroke-width="29.4" filter="url(#bl05)"/>
<use href="#p2" stroke="#ff0303" stroke-width="28.4" filter="url(#bl05)"/>
<use href="#p3" stroke="#ff0303" stroke-width="27.4" filter="url(#bl05)"/>
<use href="#p5" stroke="#780404" stroke-width="4.8" stroke-linecap="butt" filter="url(#bl1)" opacity="0.9"/>
<g filter="url(#bl1)"><use href="#p6" stroke="#ff1818" stroke-width="9.1" stroke-linecap="butt" opacity="0.70"/><use href="#p7" stroke="#ff1818" stroke-width="9.1" stroke-linecap="butt" opacity="0.63"/><use href="#p8" stroke="#ff1818" stroke-width="9.1" stroke-linecap="butt" opacity="0.56"/><use href="#p9" stroke="#ff1818" stroke-width="9.1" stroke-linecap="butt" opacity="0.49"/><use href="#p10" stroke="#ff1818" stroke-width="9.1" stroke-linecap="butt" opacity="0.42"/><use href="#p11" stroke="#ff1818" stroke-width="9.1" stroke-linecap="butt" opacity="0.35"/><use href="#p12" stroke="#ff1818" stroke-width="9.1" stroke-linecap="butt" opacity="0.28"/><use href="#p13" stroke="#ff1818" stroke-width="9.1" stroke-linecap="butt" opacity="0.21"/><use href="#p14" stroke="#ff1818" stroke-width="9.1" stroke-linecap="butt" opacity="0.14"/><use href="#p15" stroke="#ff1818" stroke-width="9.1" stroke-linecap="butt" opacity="0.07"/><use href="#p16" stroke="#ff1818" stroke-width="9.1" stroke-linecap="butt" opacity="0.14"/><use href="#p17" stroke="#ff1818" stroke-width="9.1" stroke-linecap="butt" opacity="0.21"/><use href="#p18" stroke="#ff1818" stroke-width="9.1" stroke-linecap="butt" opacity="0.28"/><use href="#p19" stroke="#ff1818" stroke-width="9.1" stroke-linecap="butt" opacity="0.35"/><use href="#p20" stroke="#ff1818" stroke-width="9.1" stroke-linecap="butt" opacity="0.42"/><use href="#p21" stroke="#ff1818" stroke-width="9.1" stroke-linecap="butt" opacity="0.49"/><use href="#p22" stroke="#ff1818" stroke-width="9.1" stroke-linecap="butt" opacity="0.56"/><use href="#p23" stroke="#ff1818" stroke-width="9.1" stroke-linecap="butt" opacity="0.63"/><use href="#p24" stroke="#ff1818" stroke-width="9.1" stroke-linecap="butt" opacity="0.70"/><use href="#p25" stroke="#ff1818" stroke-width="9.1" stroke-linecap="butt" opacity="0.63"/><use href="#p26" stroke="#ff1818" stroke-width="9.1" stroke-linecap="butt" opacity="0.56"/><use href="#p27" stroke="#ff1818" stroke-width="9.1" stroke-linecap="butt" opacity="0.49"/><use href="#p28" stroke="#ff1818" stroke-width="9.1" stroke-linecap="butt" opacity="0.42"/><use href="#p29" stroke="#ff1818" stroke-width="9.1" stroke-linecap="butt" opacity="0.35"/><use href="#p30" stroke="#ff1818" stroke-width="9.1" stroke-linecap="butt" opacity="0.28"/><use href="#p31" stroke="#ff1818" stroke-width="9.1" stroke-linecap="butt" opacity="0.21"/><use href="#p32" stroke="#ff1818" stroke-width="9.1" stroke-linecap="butt" opacity="0.14"/><use href="#p33" stroke="#ff1818" stroke-width="9.1" stroke-linecap="butt" opacity="0.07"/></g>
<g filter="url(#bl05)"><use href="#p6" stroke="#ff3a3a" stroke-width="2.5" stroke-linecap="butt" opacity="1.00"/><use href="#p7" stroke="#ff3a3a" stroke-width="2.5" stroke-linecap="butt" opacity="0.90"/><use href="#p8" stroke="#ff3a3a" stroke-width="2.5" stroke-linecap="butt" opacity="0.80"/><use href="#p9" stroke="#ff3a3a" stroke-width="2.5" stroke-linecap="butt" opacity="0.70"/><use href="#p10" stroke="#ff3a3a" stroke-width="2.5" stroke-linecap="butt" opacity="0.60"/><use href="#p11" stroke="#ff3a3a" stroke-width="2.5" stroke-linecap="butt" opacity="0.50"/><use href="#p12" stroke="#ff3a3a" stroke-width="2.5" stroke-linecap="butt" opacity="0.40"/><use href="#p13" stroke="#ff3a3a" stroke-width="2.5" stroke-linecap="butt" opacity="0.30"/><use href="#p14" stroke="#ff3a3a" stroke-width="2.5" stroke-linecap="butt" opacity="0.20"/><use href="#p15" stroke="#ff3a3a" stroke-width="2.5" stroke-linecap="butt" opacity="0.10"/><use href="#p16" stroke="#ff3a3a" stroke-width="2.5" stroke-linecap="butt" opacity="0.20"/><use href="#p17" stroke="#ff3a3a" stroke-width="2.5" stroke-linecap="butt" opacity="0.30"/><use href="#p18" stroke="#ff3a3a" stroke-width="2.5" stroke-linecap="butt" opacity="0.40"/><use href="#p19" stroke="#ff3a3a" stroke-width="2.5" stroke-linecap="butt" opacity="0.50"/><use href="#p20" stroke="#ff3a3a" stroke-width="2.5" stroke-linecap="butt" opacity="0.60"/><use href="#p21" stroke="#ff3a3a" stroke-width="2.5" stroke-linecap="butt" opacity="0.70"/><use href="#p22" stroke="#ff3a3a" stroke-width="2.5" stroke-linecap="butt" opacity="0.80"/><use href="#p23" stroke="#ff3a3a" stroke-width="2.5" stroke-linecap="butt" opacity="0.90"/><use href="#p24" stroke="#ff3a3a" stroke-width="2.5" stroke-linecap="butt" opacity="1.00"/><use href="#p25" stroke="#ff3a3a" stroke-width="2.5" stroke-linecap="butt" opacity="0.90"/><use href="#p26" stroke="#ff3a3a" stroke-width="2.5" stroke-linecap="butt" opacity="0.80"/><use href="#p27" stroke="#ff3a3a" stroke-width="2.5" stroke-linecap="butt" opacity="0.70"/><use href="#p28" stroke="#ff3a3a" stroke-width="2.5" stroke-linecap="butt" opacity="0.60"/><use href="#p29" stroke="#ff3a3a" stroke-width="2.5" stroke-linecap="butt" opacity="0.50"/><use href="#p30" stroke="#ff3a3a" stroke-width="2.5" stroke-linecap="butt" opacity="0.40"/><use href="#p31" stroke="#ff3a3a" stroke-width="2.5" stroke-linecap="butt" opacity="0.30"/><use href="#p32" stroke="#ff3a3a" stroke-width="2.5" stroke-linecap="butt" opacity="0.20"/><use href="#p33" stroke="#ff3a3a" stroke-width="2.5" stroke-linecap="butt" opacity="0.10"/></g>
</g>
<g fill="none" stroke-linecap="round" stroke-linejoin="round" clip-path="url(#c35)">
<use href="#p4" stroke="#c00000" stroke-width="28"/>
<use href="#p1" stroke="#c00000" stroke-width="31.0"/>
<use href="#p2" stroke="#c00000" stroke-width="30.0"/>
<use href="#p3" stroke="#c00000" stroke-width="29.0"/>
<use href="#p4" stroke="#ff0303" stroke-width="26.4" filter="url(#bl05)"/>
<use href="#p1" stroke="#ff0303" stroke-width="29.4" filter="url(#bl05)"/>
<use href="#p2" stroke="#ff0303" stroke-width="28.4" filter="url(#bl05)"/>
<use href="#p3" stroke="#ff0303" stroke-width="27.4" filter="url(#bl05)"/>
<use href="#p5" stroke="#780404" stroke-width="4.8" stroke-linecap="butt" filter="url(#bl1)" opacity="0.9"/>
<g filter="url(#bl1)"><use href="#p6" stroke="#ff1818" stroke-width="9.1" stroke-linecap="butt" opacity="0.70"/><use href="#p7" stroke="#ff1818" stroke-width="9.1" stroke-linecap="butt" opacity="0.63"/><use href="#p8" stroke="#ff1818" stroke-width="9.1" stroke-linecap="butt" opacity="0.56"/><use href="#p9" stroke="#ff1818" stroke-width="9.1" stroke-linecap="butt" opacity="0.49"/><use href="#p10" stroke="#ff1818" stroke-width="9.1" stroke-linecap="butt" opacity="0.42"/><use href="#p11" stroke="#ff1818" stroke-width="9.1" stroke-linecap="butt" opacity="0.35"/><use href="#p12" stroke="#ff1818" stroke-width="9.1" stroke-linecap="butt" opacity="0.28"/><use href="#p13" stroke="#ff1818" stroke-width="9.1" stroke-linecap="butt" opacity="0.21"/><use href="#p14" stroke="#ff1818" stroke-width="9.1" stroke-linecap="butt" opacity="0.14"/><use href="#p15" stroke="#ff1818" stroke-width="9.1" stroke-linecap="butt" opacity="0.07"/><use href="#p16" stroke="#ff1818" stroke-width="9.1" stroke-linecap="butt" opacity="0.14"/><use href="#p17" stroke="#ff1818" stroke-width="9.1" stroke-linecap="butt" opacity="0.21"/><use href="#p18" stroke="#ff1818" stroke-width="9.1" stroke-linecap="butt" opacity="0.28"/><use href="#p19" stroke="#ff1818" stroke-width="9.1" stroke-linecap="butt" opacity="0.35"/><use href="#p20" stroke="#ff1818" stroke-width="9.1" stroke-linecap="butt" opacity="0.42"/><use href="#p21" stroke="#ff1818" stroke-width="9.1" stroke-linecap="butt" opacity="0.49"/><use href="#p22" stroke="#ff1818" stroke-width="9.1" stroke-linecap="butt" opacity="0.56"/><use href="#p23" stroke="#ff1818" stroke-width="9.1" stroke-linecap="butt" opacity="0.63"/><use href="#p24" stroke="#ff1818" stroke-width="9.1" stroke-linecap="butt" opacity="0.70"/><use href="#p25" stroke="#ff1818" stroke-width="9.1" stroke-linecap="butt" opacity="0.63"/><use href="#p26" stroke="#ff1818" stroke-width="9.1" stroke-linecap="butt" opacity="0.56"/><use href="#p27" stroke="#ff1818" stroke-width="9.1" stroke-linecap="butt" opacity="0.49"/><use href="#p28" stroke="#ff1818" stroke-width="9.1" stroke-linecap="butt" opacity="0.42"/><use href="#p29" stroke="#ff1818" stroke-width="9.1" stroke-linecap="butt" opacity="0.35"/><use href="#p30" stroke="#ff1818" stroke-width="9.1" stroke-linecap="butt" opacity="0.28"/><use href="#p31" stroke="#ff1818" stroke-width="9.1" stroke-linecap="butt" opacity="0.21"/><use href="#p32" stroke="#ff1818" stroke-width="9.1" stroke-linecap="butt" opacity="0.14"/><use href="#p33" stroke="#ff1818" stroke-width="9.1" stroke-linecap="butt" opacity="0.07"/></g>
<g filter="url(#bl05)"><use href="#p6" stroke="#ff3a3a" stroke-width="2.5" stroke-linecap="butt" opacity="1.00"/><use href="#p7" stroke="#ff3a3a" stroke-width="2.5" stroke-linecap="butt" opacity="0.90"/><use href="#p8" stroke="#ff3a3a" stroke-width="2.5" stroke-linecap="butt" opacity="0.80"/><use href="#p9" stroke="#ff3a3a" stroke-width="2.5" stroke-linecap="butt" opacity="0.70"/><use href="#p10" stroke="#ff3a3a" stroke-width="2.5" stroke-linecap="butt" opacity="0.60"/><use href="#p11" stroke="#ff3a3a" stroke-width="2.5" stroke-linecap="butt" opacity="0.50"/><use href="#p12" stroke="#ff3a3a" stroke-width="2.5" stroke-linecap="butt" opacity="0.40"/><use href="#p13" stroke="#ff3a3a" stroke-width="2.5" stroke-linecap="butt" opacity="0.30"/><use href="#p14" stroke="#ff3a3a" stroke-width="2.5" stroke-linecap="butt" opacity="0.20"/><use href="#p15" stroke="#ff3a3a" stroke-width="2.5" stroke-linecap="butt" opacity="0.10"/><use href="#p16" stroke="#ff3a3a" stroke-width="2.5" stroke-linecap="butt" opacity="0.20"/><use href="#p17" stroke="#ff3a3a" stroke-width="2.5" stroke-linecap="butt" opacity="0.30"/><use href="#p18" stroke="#ff3a3a" stroke-width="2.5" stroke-linecap="butt" opacity="0.40"/><use href="#p19" stroke="#ff3a3a" stroke-width="2.5" stroke-linecap="butt" opacity="0.50"/><use href="#p20" stroke="#ff3a3a" stroke-width="2.5" stroke-linecap="butt" opacity="0.60"/><use href="#p21" stroke="#ff3a3a" stroke-width="2.5" stroke-linecap="butt" opacity="0.70"/><use href="#p22" stroke="#ff3a3a" stroke-width="2.5" stroke-linecap="butt" opacity="0.80"/><use href="#p23" stroke="#ff3a3a" stroke-width="2.5" stroke-linecap="butt" opacity="0.90"/><use href="#p24" stroke="#ff3a3a" stroke-width="2.5" stroke-linecap="butt" opacity="1.00"/><use href="#p25" stroke="#ff3a3a" stroke-width="2.5" stroke-linecap="butt" opacity="0.90"/><use href="#p26" stroke="#ff3a3a" stroke-width="2.5" stroke-linecap="butt" opacity="0.80"/><use href="#p27" stroke="#ff3a3a" stroke-width="2.5" stroke-linecap="butt" opacity="0.70"/><use href="#p28" stroke="#ff3a3a" stroke-width="2.5" stroke-linecap="butt" opacity="0.60"/><use href="#p29" stroke="#ff3a3a" stroke-width="2.5" stroke-linecap="butt" opacity="0.50"/><use href="#p30" stroke="#ff3a3a" stroke-width="2.5" stroke-linecap="butt" opacity="0.40"/><use href="#p31" stroke="#ff3a3a" stroke-width="2.5" stroke-linecap="butt" opacity="0.30"/><use href="#p32" stroke="#ff3a3a" stroke-width="2.5" stroke-linecap="butt" opacity="0.20"/><use href="#p33" stroke="#ff3a3a" stroke-width="2.5" stroke-linecap="butt" opacity="0.10"/></g>
</g>
<g fill="none" stroke-linecap="round" stroke-linejoin="round" clip-path="url(#c36)">
<use href="#p4" stroke="#c00000" stroke-width="28"/>
<use href="#p1" stroke="#c00000" stroke-width="31.0"/>
<use href="#p2" stroke="#c00000" stroke-width="30.0"/>
<use href="#p3" stroke="#c00000" stroke-width="29.0"/>
<use href="#p4" stroke="#ff0303" stroke-width="26.4" filter="url(#bl05)"/>
<use href="#p1" stroke="#ff0303" stroke-width="29.4" filter="url(#bl05)"/>
<use href="#p2" stroke="#ff0303" stroke-width="28.4" filter="url(#bl05)"/>
<use href="#p3" stroke="#ff0303" stroke-width="27.4" filter="url(#bl05)"/>
<use href="#p5" stroke="#780404" stroke-width="4.8" stroke-linecap="butt" filter="url(#bl1)" opacity="0.9"/>
<g filter="url(#bl1)"><use href="#p6" stroke="#ff1818" stroke-width="9.1" stroke-linecap="butt" opacity="0.70"/><use href="#p7" stroke="#ff1818" stroke-width="9.1" stroke-linecap="butt" opacity="0.63"/><use href="#p8" stroke="#ff1818" stroke-width="9.1" stroke-linecap="butt" opacity="0.56"/><use href="#p9" stroke="#ff1818" stroke-width="9.1" stroke-linecap="butt" opacity="0.49"/><use href="#p10" stroke="#ff1818" stroke-width="9.1" stroke-linecap="butt" opacity="0.42"/><use href="#p11" stroke="#ff1818" stroke-width="9.1" stroke-linecap="butt" opacity="0.35"/><use href="#p12" stroke="#ff1818" stroke-width="9.1" stroke-linecap="butt" opacity="0.28"/><use href="#p13" stroke="#ff1818" stroke-width="9.1" stroke-linecap="butt" opacity="0.21"/><use href="#p14" stroke="#ff1818" stroke-width="9.1" stroke-linecap="butt" opacity="0.14"/><use href="#p15" stroke="#ff1818" stroke-width="9.1" stroke-linecap="butt" opacity="0.07"/><use href="#p16" stroke="#ff1818" stroke-width="9.1" stroke-linecap="butt" opacity="0.14"/><use href="#p17" stroke="#ff1818" stroke-width="9.1" stroke-linecap="butt" opacity="0.21"/><use href="#p18" stroke="#ff1818" stroke-width="9.1" stroke-linecap="butt" opacity="0.28"/><use href="#p19" stroke="#ff1818" stroke-width="9.1" stroke-linecap="butt" opacity="0.35"/><use href="#p20" stroke="#ff1818" stroke-width="9.1" stroke-linecap="butt" opacity="0.42"/><use href="#p21" stroke="#ff1818" stroke-width="9.1" stroke-linecap="butt" opacity="0.49"/><use href="#p22" stroke="#ff1818" stroke-width="9.1" stroke-linecap="butt" opacity="0.56"/><use href="#p23" stroke="#ff1818" stroke-width="9.1" stroke-linecap="butt" opacity="0.63"/><use href="#p24" stroke="#ff1818" stroke-width="9.1" stroke-linecap="butt" opacity="0.70"/><use href="#p25" stroke="#ff1818" stroke-width="9.1" stroke-linecap="butt" opacity="0.63"/><use href="#p26" stroke="#ff1818" stroke-width="9.1" stroke-linecap="butt" opacity="0.56"/><use href="#p27" stroke="#ff1818" stroke-width="9.1" stroke-linecap="butt" opacity="0.49"/><use href="#p28" stroke="#ff1818" stroke-width="9.1" stroke-linecap="butt" opacity="0.42"/><use href="#p29" stroke="#ff1818" stroke-width="9.1" stroke-linecap="butt" opacity="0.35"/><use href="#p30" stroke="#ff1818" stroke-width="9.1" stroke-linecap="butt" opacity="0.28"/><use href="#p31" stroke="#ff1818" stroke-width="9.1" stroke-linecap="butt" opacity="0.21"/><use href="#p32" stroke="#ff1818" stroke-width="9.1" stroke-linecap="butt" opacity="0.14"/><use href="#p33" stroke="#ff1818" stroke-width="9.1" stroke-linecap="butt" opacity="0.07"/></g>
<g filter="url(#bl05)"><use href="#p6" stroke="#ff3a3a" stroke-width="2.5" stroke-linecap="butt" opacity="1.00"/><use href="#p7" stroke="#ff3a3a" stroke-width="2.5" stroke-linecap="butt" opacity="0.90"/><use href="#p8" stroke="#ff3a3a" stroke-width="2.5" stroke-linecap="butt" opacity="0.80"/><use href="#p9" stroke="#ff3a3a" stroke-width="2.5" stroke-linecap="butt" opacity="0.70"/><use href="#p10" stroke="#ff3a3a" stroke-width="2.5" stroke-linecap="butt" opacity="0.60"/><use href="#p11" stroke="#ff3a3a" stroke-width="2.5" stroke-linecap="butt" opacity="0.50"/><use href="#p12" stroke="#ff3a3a" stroke-width="2.5" stroke-linecap="butt" opacity="0.40"/><use href="#p13" stroke="#ff3a3a" stroke-width="2.5" stroke-linecap="butt" opacity="0.30"/><use href="#p14" stroke="#ff3a3a" stroke-width="2.5" stroke-linecap="butt" opacity="0.20"/><use href="#p15" stroke="#ff3a3a" stroke-width="2.5" stroke-linecap="butt" opacity="0.10"/><use href="#p16" stroke="#ff3a3a" stroke-width="2.5" stroke-linecap="butt" opacity="0.20"/><use href="#p17" stroke="#ff3a3a" stroke-width="2.5" stroke-linecap="butt" opacity="0.30"/><use href="#p18" stroke="#ff3a3a" stroke-width="2.5" stroke-linecap="butt" opacity="0.40"/><use href="#p19" stroke="#ff3a3a" stroke-width="2.5" stroke-linecap="butt" opacity="0.50"/><use href="#p20" stroke="#ff3a3a" stroke-width="2.5" stroke-linecap="butt" opacity="0.60"/><use href="#p21" stroke="#ff3a3a" stroke-width="2.5" stroke-linecap="butt" opacity="0.70"/><use href="#p22" stroke="#ff3a3a" stroke-width="2.5" stroke-linecap="butt" opacity="0.80"/><use href="#p23" stroke="#ff3a3a" stroke-width="2.5" stroke-linecap="butt" opacity="0.90"/><use href="#p24" stroke="#ff3a3a" stroke-width="2.5" stroke-linecap="butt" opacity="1.00"/><use href="#p25" stroke="#ff3a3a" stroke-width="2.5" stroke-linecap="butt" opacity="0.90"/><use href="#p26" stroke="#ff3a3a" stroke-width="2.5" stroke-linecap="butt" opacity="0.80"/><use href="#p27" stroke="#ff3a3a" stroke-width="2.5" stroke-linecap="butt" opacity="0.70"/><use href="#p28" stroke="#ff3a3a" stroke-width="2.5" stroke-linecap="butt" opacity="0.60"/><use href="#p29" stroke="#ff3a3a" stroke-width="2.5" stroke-linecap="butt" opacity="0.50"/><use href="#p30" stroke="#ff3a3a" stroke-width="2.5" stroke-linecap="butt" opacity="0.40"/><use href="#p31" stroke="#ff3a3a" stroke-width="2.5" stroke-linecap="butt" opacity="0.30"/><use href="#p32" stroke="#ff3a3a" stroke-width="2.5" stroke-linecap="butt" opacity="0.20"/><use href="#p33" stroke="#ff3a3a" stroke-width="2.5" stroke-linecap="butt" opacity="0.10"/></g>
</g>
<g fill="none" stroke-linecap="round" stroke-linejoin="round" clip-path="url(#c37)">
<use href="#p4" stroke="#c00000" stroke-width="28"/>
<use href="#p1" stroke="#c00000" stroke-width="31.0"/>
<use href="#p2" stroke="#c00000" stroke-width="30.0"/>
<use href="#p3" stroke="#c00000" stroke-width="29.0"/>
<use href="#p4" stroke="#ff0303" stroke-width="26.4" filter="url(#bl05)"/>
<use href="#p1" stroke="#ff0303" stroke-width="29.4" filter="url(#bl05)"/>
<use href="#p2" stroke="#ff0303" stroke-width="28.4" filter="url(#bl05)"/>
<use href="#p3" stroke="#ff0303" stroke-width="27.4" filter="url(#bl05)"/>
<use href="#p5" stroke="#780404" stroke-width="4.8" stroke-linecap="butt" filter="url(#bl1)" opacity="0.9"/>
<g filter="url(#bl1)"><use href="#p6" stroke="#ff1818" stroke-width="9.1" stroke-linecap="butt" opacity="0.70"/><use href="#p7" stroke="#ff1818" stroke-width="9.1" stroke-linecap="butt" opacity="0.63"/><use href="#p8" stroke="#ff1818" stroke-width="9.1" stroke-linecap="butt" opacity="0.56"/><use href="#p9" stroke="#ff1818" stroke-width="9.1" stroke-linecap="butt" opacity="0.49"/><use href="#p10" stroke="#ff1818" stroke-width="9.1" stroke-linecap="butt" opacity="0.42"/><use href="#p11" stroke="#ff1818" stroke-width="9.1" stroke-linecap="butt" opacity="0.35"/><use href="#p12" stroke="#ff1818" stroke-width="9.1" stroke-linecap="butt" opacity="0.28"/><use href="#p13" stroke="#ff1818" stroke-width="9.1" stroke-linecap="butt" opacity="0.21"/><use href="#p14" stroke="#ff1818" stroke-width="9.1" stroke-linecap="butt" opacity="0.14"/><use href="#p15" stroke="#ff1818" stroke-width="9.1" stroke-linecap="butt" opacity="0.07"/><use href="#p16" stroke="#ff1818" stroke-width="9.1" stroke-linecap="butt" opacity="0.14"/><use href="#p17" stroke="#ff1818" stroke-width="9.1" stroke-linecap="butt" opacity="0.21"/><use href="#p18" stroke="#ff1818" stroke-width="9.1" stroke-linecap="butt" opacity="0.28"/><use href="#p19" stroke="#ff1818" stroke-width="9.1" stroke-linecap="butt" opacity="0.35"/><use href="#p20" stroke="#ff1818" stroke-width="9.1" stroke-linecap="butt" opacity="0.42"/><use href="#p21" stroke="#ff1818" stroke-width="9.1" stroke-linecap="butt" opacity="0.49"/><use href="#p22" stroke="#ff1818" stroke-width="9.1" stroke-linecap="butt" opacity="0.56"/><use href="#p23" stroke="#ff1818" stroke-width="9.1" stroke-linecap="butt" opacity="0.63"/><use href="#p24" stroke="#ff1818" stroke-width="9.1" stroke-linecap="butt" opacity="0.70"/><use href="#p25" stroke="#ff1818" stroke-width="9.1" stroke-linecap="butt" opacity="0.63"/><use href="#p26" stroke="#ff1818" stroke-width="9.1" stroke-linecap="butt" opacity="0.56"/><use href="#p27" stroke="#ff1818" stroke-width="9.1" stroke-linecap="butt" opacity="0.49"/><use href="#p28" stroke="#ff1818" stroke-width="9.1" stroke-linecap="butt" opacity="0.42"/><use href="#p29" stroke="#ff1818" stroke-width="9.1" stroke-linecap="butt" opacity="0.35"/><use href="#p30" stroke="#ff1818" stroke-width="9.1" stroke-linecap="butt" opacity="0.28"/><use href="#p31" stroke="#ff1818" stroke-width="9.1" stroke-linecap="butt" opacity="0.21"/><use href="#p32" stroke="#ff1818" stroke-width="9.1" stroke-linecap="butt" opacity="0.14"/><use href="#p33" stroke="#ff1818" stroke-width="9.1" stroke-linecap="butt" opacity="0.07"/></g>
<g filter="url(#bl05)"><use href="#p6" stroke="#ff3a3a" stroke-width="2.5" stroke-linecap="butt" opacity="1.00"/><use href="#p7" stroke="#ff3a3a" stroke-width="2.5" stroke-linecap="butt" opacity="0.90"/><use href="#p8" stroke="#ff3a3a" stroke-width="2.5" stroke-linecap="butt" opacity="0.80"/><use href="#p9" stroke="#ff3a3a" stroke-width="2.5" stroke-linecap="butt" opacity="0.70"/><use href="#p10" stroke="#ff3a3a" stroke-width="2.5" stroke-linecap="butt" opacity="0.60"/><use href="#p11" stroke="#ff3a3a" stroke-width="2.5" stroke-linecap="butt" opacity="0.50"/><use href="#p12" stroke="#ff3a3a" stroke-width="2.5" stroke-linecap="butt" opacity="0.40"/><use href="#p13" stroke="#ff3a3a" stroke-width="2.5" stroke-linecap="butt" opacity="0.30"/><use href="#p14" stroke="#ff3a3a" stroke-width="2.5" stroke-linecap="butt" opacity="0.20"/><use href="#p15" stroke="#ff3a3a" stroke-width="2.5" stroke-linecap="butt" opacity="0.10"/><use href="#p16" stroke="#ff3a3a" stroke-width="2.5" stroke-linecap="butt" opacity="0.20"/><use href="#p17" stroke="#ff3a3a" stroke-width="2.5" stroke-linecap="butt" opacity="0.30"/><use href="#p18" stroke="#ff3a3a" stroke-width="2.5" stroke-linecap="butt" opacity="0.40"/><use href="#p19" stroke="#ff3a3a" stroke-width="2.5" stroke-linecap="butt" opacity="0.50"/><use href="#p20" stroke="#ff3a3a" stroke-width="2.5" stroke-linecap="butt" opacity="0.60"/><use href="#p21" stroke="#ff3a3a" stroke-width="2.5" stroke-linecap="butt" opacity="0.70"/><use href="#p22" stroke="#ff3a3a" stroke-width="2.5" stroke-linecap="butt" opacity="0.80"/><use href="#p23" stroke="#ff3a3a" stroke-width="2.5" stroke-linecap="butt" opacity="0.90"/><use href="#p24" stroke="#ff3a3a" stroke-width="2.5" stroke-linecap="butt" opacity="1.00"/><use href="#p25" stroke="#ff3a3a" stroke-width="2.5" stroke-linecap="butt" opacity="0.90"/><use href="#p26" stroke="#ff3a3a" stroke-width="2.5" stroke-linecap="butt" opacity="0.80"/><use href="#p27" stroke="#ff3a3a" stroke-width="2.5" stroke-linecap="butt" opacity="0.70"/><use href="#p28" stroke="#ff3a3a" stroke-width="2.5" stroke-linecap="butt" opacity="0.60"/><use href="#p29" stroke="#ff3a3a" stroke-width="2.5" stroke-linecap="butt" opacity="0.50"/><use href="#p30" stroke="#ff3a3a" stroke-width="2.5" stroke-linecap="butt" opacity="0.40"/><use href="#p31" stroke="#ff3a3a" stroke-width="2.5" stroke-linecap="butt" opacity="0.30"/><use href="#p32" stroke="#ff3a3a" stroke-width="2.5" stroke-linecap="butt" opacity="0.20"/><use href="#p33" stroke="#ff3a3a" stroke-width="2.5" stroke-linecap="butt" opacity="0.10"/></g>
</g>
<g fill="none" stroke-linecap="round" stroke-linejoin="round" clip-path="url(#c38)">
<use href="#p4" stroke="#c00000" stroke-width="28"/>
<use href="#p1" stroke="#c00000" stroke-width="31.0"/>
<use href="#p2" stroke="#c00000" stroke-width="30.0"/>
<use href="#p3" stroke="#c00000" stroke-width="29.0"/>
<use href="#p4" stroke="#ff0303" stroke-width="26.4" filter="url(#bl05)"/>
<use href="#p1" stroke="#ff0303" stroke-width="29.4" filter="url(#bl05)"/>
<use href="#p2" stroke="#ff0303" stroke-width="28.4" filter="url(#bl05)"/>
<use href="#p3" stroke="#ff0303" stroke-width="27.4" filter="url(#bl05)"/>
<use href="#p5" stroke="#780404" stroke-width="4.8" stroke-linecap="butt" filter="url(#bl1)" opacity="0.9"/>
<g filter="url(#bl1)"><use href="#p6" stroke="#ff1818" stroke-width="9.1" stroke-linecap="butt" opacity="0.70"/><use href="#p7" stroke="#ff1818" stroke-width="9.1" stroke-linecap="butt" opacity="0.63"/><use href="#p8" stroke="#ff1818" stroke-width="9.1" stroke-linecap="butt" opacity="0.56"/><use href="#p9" stroke="#ff1818" stroke-width="9.1" stroke-linecap="butt" opacity="0.49"/><use href="#p10" stroke="#ff1818" stroke-width="9.1" stroke-linecap="butt" opacity="0.42"/><use href="#p11" stroke="#ff1818" stroke-width="9.1" stroke-linecap="butt" opacity="0.35"/><use href="#p12" stroke="#ff1818" stroke-width="9.1" stroke-linecap="butt" opacity="0.28"/><use href="#p13" stroke="#ff1818" stroke-width="9.1" stroke-linecap="butt" opacity="0.21"/><use href="#p14" stroke="#ff1818" stroke-width="9.1" stroke-linecap="butt" opacity="0.14"/><use href="#p15" stroke="#ff1818" stroke-width="9.1" stroke-linecap="butt" opacity="0.07"/><use href="#p16" stroke="#ff1818" stroke-width="9.1" stroke-linecap="butt" opacity="0.14"/><use href="#p17" stroke="#ff1818" stroke-width="9.1" stroke-linecap="butt" opacity="0.21"/><use href="#p18" stroke="#ff1818" stroke-width="9.1" stroke-linecap="butt" opacity="0.28"/><use href="#p19" stroke="#ff1818" stroke-width="9.1" stroke-linecap="butt" opacity="0.35"/><use href="#p20" stroke="#ff1818" stroke-width="9.1" stroke-linecap="butt" opacity="0.42"/><use href="#p21" stroke="#ff1818" stroke-width="9.1" stroke-linecap="butt" opacity="0.49"/><use href="#p22" stroke="#ff1818" stroke-width="9.1" stroke-linecap="butt" opacity="0.56"/><use href="#p23" stroke="#ff1818" stroke-width="9.1" stroke-linecap="butt" opacity="0.63"/><use href="#p24" stroke="#ff1818" stroke-width="9.1" stroke-linecap="butt" opacity="0.70"/><use href="#p25" stroke="#ff1818" stroke-width="9.1" stroke-linecap="butt" opacity="0.63"/><use href="#p26" stroke="#ff1818" stroke-width="9.1" stroke-linecap="butt" opacity="0.56"/><use href="#p27" stroke="#ff1818" stroke-width="9.1" stroke-linecap="butt" opacity="0.49"/><use href="#p28" stroke="#ff1818" stroke-width="9.1" stroke-linecap="butt" opacity="0.42"/><use href="#p29" stroke="#ff1818" stroke-width="9.1" stroke-linecap="butt" opacity="0.35"/><use href="#p30" stroke="#ff1818" stroke-width="9.1" stroke-linecap="butt" opacity="0.28"/><use href="#p31" stroke="#ff1818" stroke-width="9.1" stroke-linecap="butt" opacity="0.21"/><use href="#p32" stroke="#ff1818" stroke-width="9.1" stroke-linecap="butt" opacity="0.14"/><use href="#p33" stroke="#ff1818" stroke-width="9.1" stroke-linecap="butt" opacity="0.07"/></g>
<g filter="url(#bl05)"><use href="#p6" stroke="#ff3a3a" stroke-width="2.5" stroke-linecap="butt" opacity="1.00"/><use href="#p7" stroke="#ff3a3a" stroke-width="2.5" stroke-linecap="butt" opacity="0.90"/><use href="#p8" stroke="#ff3a3a" stroke-width="2.5" stroke-linecap="butt" opacity="0.80"/><use href="#p9" stroke="#ff3a3a" stroke-width="2.5" stroke-linecap="butt" opacity="0.70"/><use href="#p10" stroke="#ff3a3a" stroke-width="2.5" stroke-linecap="butt" opacity="0.60"/><use href="#p11" stroke="#ff3a3a" stroke-width="2.5" stroke-linecap="butt" opacity="0.50"/><use href="#p12" stroke="#ff3a3a" stroke-width="2.5" stroke-linecap="butt" opacity="0.40"/><use href="#p13" stroke="#ff3a3a" stroke-width="2.5" stroke-linecap="butt" opacity="0.30"/><use href="#p14" stroke="#ff3a3a" stroke-width="2.5" stroke-linecap="butt" opacity="0.20"/><use href="#p15" stroke="#ff3a3a" stroke-width="2.5" stroke-linecap="butt" opacity="0.10"/><use href="#p16" stroke="#ff3a3a" stroke-width="2.5" stroke-linecap="butt" opacity="0.20"/><use href="#p17" stroke="#ff3a3a" stroke-width="2.5" stroke-linecap="butt" opacity="0.30"/><use href="#p18" stroke="#ff3a3a" stroke-width="2.5" stroke-linecap="butt" opacity="0.40"/><use href="#p19" stroke="#ff3a3a" stroke-width="2.5" stroke-linecap="butt" opacity="0.50"/><use href="#p20" stroke="#ff3a3a" stroke-width="2.5" stroke-linecap="butt" opacity="0.60"/><use href="#p21" stroke="#ff3a3a" stroke-width="2.5" stroke-linecap="butt" opacity="0.70"/><use href="#p22" stroke="#ff3a3a" stroke-width="2.5" stroke-linecap="butt" opacity="0.80"/><use href="#p23" stroke="#ff3a3a" stroke-width="2.5" stroke-linecap="butt" opacity="0.90"/><use href="#p24" stroke="#ff3a3a" stroke-width="2.5" stroke-linecap="butt" opacity="1.00"/><use href="#p25" stroke="#ff3a3a" stroke-width="2.5" stroke-linecap="butt" opacity="0.90"/><use href="#p26" stroke="#ff3a3a" stroke-width="2.5" stroke-linecap="butt" opacity="0.80"/><use href="#p27" stroke="#ff3a3a" stroke-width="2.5" stroke-linecap="butt" opacity="0.70"/><use href="#p28" stroke="#ff3a3a" stroke-width="2.5" stroke-linecap="butt" opacity="0.60"/><use href="#p29" stroke="#ff3a3a" stroke-width="2.5" stroke-linecap="butt" opacity="0.50"/><use href="#p30" stroke="#ff3a3a" stroke-width="2.5" stroke-linecap="butt" opacity="0.40"/><use href="#p31" stroke="#ff3a3a" stroke-width="2.5" stroke-linecap="butt" opacity="0.30"/><use href="#p32" stroke="#ff3a3a" stroke-width="2.5" stroke-linecap="butt" opacity="0.20"/><use href="#p33" stroke="#ff3a3a" stroke-width="2.5" stroke-linecap="butt" opacity="0.10"/></g>
</g>
<circle cx="141" cy="73.3" r="20" fill="url(#gbA)"/><circle cx="141" cy="73.3" r="20" fill="url(#gbB)"/><circle cx="141" cy="73.3" r="20" fill="url(#gbD)"/><circle cx="141" cy="73.3" r="20" fill="url(#gbC)"/>
<circle cx="326" cy="62.8" r="20" fill="url(#gbA)"/><circle cx="326" cy="62.8" r="20" fill="url(#gbB)"/><circle cx="326" cy="62.8" r="20" fill="url(#gbD)"/><circle cx="326" cy="62.8" r="20" fill="url(#gbC)"/>
<circle cx="515" cy="206.5" r="20" fill="url(#gbA)"/><circle cx="515" cy="206.5" r="20" fill="url(#gbB)"/><circle cx="515" cy="206.5" r="20" fill="url(#gbD)"/><circle cx="515" cy="206.5" r="20" fill="url(#gbC)"/>
<circle cx="771" cy="244.3" r="20" fill="url(#gbA)"/><circle cx="771" cy="244.3" r="20" fill="url(#gbB)"/><circle cx="771" cy="244.3" r="20" fill="url(#gbD)"/><circle cx="771" cy="244.3" r="20" fill="url(#gbC)"/>
<circle cx="859.8" cy="69.1" r="20" fill="url(#gbA)"/><circle cx="859.8" cy="69.1" r="20" fill="url(#gbB)"/><circle cx="859.8" cy="69.1" r="20" fill="url(#gbD)"/><circle cx="859.8" cy="69.1" r="20" fill="url(#gbC)"/>
<circle cx="1042.6" cy="175.5" r="20" fill="url(#gbA)"/><circle cx="1042.6" cy="175.5" r="20" fill="url(#gbB)"/><circle cx="1042.6" cy="175.5" r="20" fill="url(#gbD)"/><circle cx="1042.6" cy="175.5" r="20" fill="url(#gbC)"/>
<path d="M86.2,159.3 Q89.6,160.2 90.4,166.3" fill="none" stroke="#4a70d0" stroke-width="1.1" stroke-linecap="round"/>
<g transform="translate(173.4,747.3) rotate(61.6)"><rect x="0" y="-10.8" width="34.9" height="21.5" fill="url(#gstick)"/><polygon points="0,-10.8 6.9,-7.0 6.9,7.0 0,10.8" fill="url(#gcap)"/></g>
<g fill="none" stroke-linecap="round" stroke-linejoin="round">
<use href="#p39" stroke="#0a4f8c" stroke-width="27.5"/>
<use href="#p39" stroke="#0f6fc0" stroke-width="25.9" filter="url(#bl05)"/>
<use href="#p40" stroke="#082c50" stroke-width="5.5" stroke-linecap="butt" filter="url(#bl1)" opacity="0.9"/>
<g filter="url(#bl1)"><use href="#p41" stroke="#2a94e6" stroke-width="8.9" stroke-linecap="butt" opacity="0.70"/><use href="#p42" stroke="#2a94e6" stroke-width="8.9" stroke-linecap="butt" opacity="0.63"/><use href="#p43" stroke="#2a94e6" stroke-width="8.9" stroke-linecap="butt" opacity="0.56"/><use href="#p44" stroke="#2a94e6" stroke-width="8.9" stroke-linecap="butt" opacity="0.49"/><use href="#p45" stroke="#2a94e6" stroke-width="8.9" stroke-linecap="butt" opacity="0.42"/><use href="#p46" stroke="#2a94e6" stroke-width="8.9" stroke-linecap="butt" opacity="0.35"/><use href="#p47" stroke="#2a94e6" stroke-width="8.9" stroke-linecap="butt" opacity="0.28"/><use href="#p48" stroke="#2a94e6" stroke-width="8.9" stroke-linecap="butt" opacity="0.21"/></g>
<g filter="url(#bl05)"><use href="#p41" stroke="#52c0ff" stroke-width="2.5" stroke-linecap="butt" opacity="1.00"/><use href="#p42" stroke="#52c0ff" stroke-width="2.5" stroke-linecap="butt" opacity="0.90"/><use href="#p43" stroke="#52c0ff" stroke-width="2.5" stroke-linecap="butt" opacity="0.80"/><use href="#p44" stroke="#52c0ff" stroke-width="2.5" stroke-linecap="butt" opacity="0.70"/><use href="#p45" stroke="#52c0ff" stroke-width="2.5" stroke-linecap="butt" opacity="0.60"/><use href="#p46" stroke="#52c0ff" stroke-width="2.5" stroke-linecap="butt" opacity="0.50"/><use href="#p47" stroke="#52c0ff" stroke-width="2.5" stroke-linecap="butt" opacity="0.40"/><use href="#p48" stroke="#52c0ff" stroke-width="2.5" stroke-linecap="butt" opacity="0.30"/></g>
</g>
<g fill="none" stroke-linecap="round" stroke-linejoin="round" clip-path="url(#c49)">
<use href="#p39" stroke="#c00000" stroke-width="27.5"/>
<use href="#p39" stroke="#ff0303" stroke-width="25.9" filter="url(#bl05)"/>
<use href="#p40" stroke="#780404" stroke-width="5.5" stroke-linecap="butt" filter="url(#bl1)" opacity="0.9"/>
<g filter="url(#bl1)"><use href="#p41" stroke="#ff1818" stroke-width="8.9" stroke-linecap="butt" opacity="0.70"/><use href="#p42" stroke="#ff1818" stroke-width="8.9" stroke-linecap="butt" opacity="0.63"/><use href="#p43" stroke="#ff1818" stroke-width="8.9" stroke-linecap="butt" opacity="0.56"/><use href="#p44" stroke="#ff1818" stroke-width="8.9" stroke-linecap="butt" opacity="0.49"/><use href="#p45" stroke="#ff1818" stroke-width="8.9" stroke-linecap="butt" opacity="0.42"/><use href="#p46" stroke="#ff1818" stroke-width="8.9" stroke-linecap="butt" opacity="0.35"/><use href="#p47" stroke="#ff1818" stroke-width="8.9" stroke-linecap="butt" opacity="0.28"/><use href="#p48" stroke="#ff1818" stroke-width="8.9" stroke-linecap="butt" opacity="0.21"/></g>
<g filter="url(#bl05)"><use href="#p41" stroke="#ff3a3a" stroke-width="2.5" stroke-linecap="butt" opacity="1.00"/><use href="#p42" stroke="#ff3a3a" stroke-width="2.5" stroke-linecap="butt" opacity="0.90"/><use href="#p43" stroke="#ff3a3a" stroke-width="2.5" stroke-linecap="butt" opacity="0.80"/><use href="#p44" stroke="#ff3a3a" stroke-width="2.5" stroke-linecap="butt" opacity="0.70"/><use href="#p45" stroke="#ff3a3a" stroke-width="2.5" stroke-linecap="butt" opacity="0.60"/><use href="#p46" stroke="#ff3a3a" stroke-width="2.5" stroke-linecap="butt" opacity="0.50"/><use href="#p47" stroke="#ff3a3a" stroke-width="2.5" stroke-linecap="butt" opacity="0.40"/><use href="#p48" stroke="#ff3a3a" stroke-width="2.5" stroke-linecap="butt" opacity="0.30"/></g>
</g>
<circle cx="156.2" cy="726.5" r="20" fill="url(#gbA)"/><circle cx="156.2" cy="726.5" r="20" fill="url(#gbB)"/><circle cx="156.2" cy="726.5" r="20" fill="url(#gbD)"/><circle cx="156.2" cy="726.5" r="20" fill="url(#gbC)"/>
<g transform="translate(372.3,805.0) rotate(-68.8)"><rect x="0" y="-11.0" width="26.8" height="22" fill="url(#gstick)"/><polygon points="0,-11.0 7.0,-7.1 7.0,7.1 0,11.0" fill="url(#gcap)"/></g>
<g fill="none" stroke-linecap="round" stroke-linejoin="round">
<use href="#p50" stroke="#0a4f8c" stroke-width="27.5"/>
<use href="#p50" stroke="#0f6fc0" stroke-width="25.9" filter="url(#bl05)"/>
<use href="#p51" stroke="#082c50" stroke-width="5.5" stroke-linecap="butt" filter="url(#bl1)" opacity="0.9"/>
<g filter="url(#bl1)"><use href="#p52" stroke="#2a94e6" stroke-width="7.9" stroke-linecap="butt" opacity="0.01"/><use href="#p53" stroke="#2a94e6" stroke-width="7.9" stroke-linecap="butt" opacity="0.02"/><use href="#p54" stroke="#2a94e6" stroke-width="7.9" stroke-linecap="butt" opacity="0.03"/><use href="#p55" stroke="#2a94e6" stroke-width="7.9" stroke-linecap="butt" opacity="0.04"/><use href="#p56" stroke="#2a94e6" stroke-width="7.9" stroke-linecap="butt" opacity="0.05"/></g>
<g filter="url(#bl05)"><use href="#p52" stroke="#52c0ff" stroke-width="2.2" stroke-linecap="butt" opacity="0.01"/><use href="#p53" stroke="#52c0ff" stroke-width="2.2" stroke-linecap="butt" opacity="0.03"/><use href="#p54" stroke="#52c0ff" stroke-width="2.2" stroke-linecap="butt" opacity="0.04"/><use href="#p55" stroke="#52c0ff" stroke-width="2.2" stroke-linecap="butt" opacity="0.06"/><use href="#p56" stroke="#52c0ff" stroke-width="2.2" stroke-linecap="butt" opacity="0.07"/></g>
</g>
<g fill="none" stroke-linecap="round" stroke-linejoin="round" clip-path="url(#c57)">
<use href="#p50" stroke="#c00000" stroke-width="27.5"/>
<use href="#p50" stroke="#ff0303" stroke-width="25.9" filter="url(#bl05)"/>
<use href="#p51" stroke="#780404" stroke-width="5.5" stroke-linecap="butt" filter="url(#bl1)" opacity="0.9"/>
<g filter="url(#bl1)"><use href="#p52" stroke="#ff1818" stroke-width="7.9" stroke-linecap="butt" opacity="0.01"/><use href="#p53" stroke="#ff1818" stroke-width="7.9" stroke-linecap="butt" opacity="0.02"/><use href="#p54" stroke="#ff1818" stroke-width="7.9" stroke-linecap="butt" opacity="0.03"/><use href="#p55" stroke="#ff1818" stroke-width="7.9" stroke-linecap="butt" opacity="0.04"/><use href="#p56" stroke="#ff1818" stroke-width="7.9" stroke-linecap="butt" opacity="0.05"/></g>
<g filter="url(#bl05)"><use href="#p52" stroke="#ff3a3a" stroke-width="2.2" stroke-linecap="butt" opacity="0.01"/><use href="#p53" stroke="#ff3a3a" stroke-width="2.2" stroke-linecap="butt" opacity="0.03"/><use href="#p54" stroke="#ff3a3a" stroke-width="2.2" stroke-linecap="butt" opacity="0.04"/><use href="#p55" stroke="#ff3a3a" stroke-width="2.2" stroke-linecap="butt" opacity="0.06"/><use href="#p56" stroke="#ff3a3a" stroke-width="2.2" stroke-linecap="butt" opacity="0.07"/></g>
</g>
<g fill="none" stroke-linecap="round" stroke-linejoin="round" clip-path="url(#c58)">
<use href="#p50" stroke="#c00000" stroke-width="27.5"/>
<use href="#p50" stroke="#ff0303" stroke-width="25.9" filter="url(#bl05)"/>
<use href="#p51" stroke="#780404" stroke-width="5.5" stroke-linecap="butt" filter="url(#bl1)" opacity="0.9"/>
<g filter="url(#bl1)"><use href="#p52" stroke="#ff1818" stroke-width="7.9" stroke-linecap="butt" opacity="0.01"/><use href="#p53" stroke="#ff1818" stroke-width="7.9" stroke-linecap="butt" opacity="0.02"/><use href="#p54" stroke="#ff1818" stroke-width="7.9" stroke-linecap="butt" opacity="0.03"/><use href="#p55" stroke="#ff1818" stroke-width="7.9" stroke-linecap="butt" opacity="0.04"/><use href="#p56" stroke="#ff1818" stroke-width="7.9" stroke-linecap="butt" opacity="0.05"/></g>
<g filter="url(#bl05)"><use href="#p52" stroke="#ff3a3a" stroke-width="2.2" stroke-linecap="butt" opacity="0.01"/><use href="#p53" stroke="#ff3a3a" stroke-width="2.2" stroke-linecap="butt" opacity="0.03"/><use href="#p54" stroke="#ff3a3a" stroke-width="2.2" stroke-linecap="butt" opacity="0.04"/><use href="#p55" stroke="#ff3a3a" stroke-width="2.2" stroke-linecap="butt" opacity="0.06"/><use href="#p56" stroke="#ff3a3a" stroke-width="2.2" stroke-linecap="butt" opacity="0.07"/></g>
</g>
<circle cx="363.4" cy="832.4" r="20.2" fill="url(#gbA)"/><circle cx="363.4" cy="832.4" r="20.2" fill="url(#gbB)"/><circle cx="363.4" cy="832.4" r="20.2" fill="url(#gbD)"/><circle cx="363.4" cy="832.4" r="20.2" fill="url(#gbC)"/>
<g transform="translate(639.0,746.7) rotate(126.6)"><rect x="0" y="-11.5" width="35.2" height="23" fill="url(#gstickr)"/><polygon points="0,-11.5 7.4,-7.5 7.4,7.5 0,11.5" fill="url(#gcapdr)"/></g>
<g fill="none" stroke-linecap="round" stroke-linejoin="round">
<use href="#p59" stroke="#0a4f8c" stroke-width="27.5"/>
<use href="#p59" stroke="#0f6fc0" stroke-width="25.9" filter="url(#bl05)"/>
<use href="#p60" stroke="#082c50" stroke-width="4.7" stroke-linecap="butt" filter="url(#bl1)" opacity="0.9"/>
<g filter="url(#bl1)"><use href="#p61" stroke="#2a94e6" stroke-width="7.9" stroke-linecap="butt" opacity="0.02"/><use href="#p62" stroke="#2a94e6" stroke-width="7.9" stroke-linecap="butt" opacity="0.01"/></g>
<g filter="url(#bl05)"><use href="#p61" stroke="#52c0ff" stroke-width="2.2" stroke-linecap="butt" opacity="0.03"/><use href="#p62" stroke="#52c0ff" stroke-width="2.2" stroke-linecap="butt" opacity="0.01"/></g>
</g>
<g fill="none" stroke-linecap="round" stroke-linejoin="round" clip-path="url(#c63)">
<use href="#p59" stroke="#c00000" stroke-width="27.5"/>
<use href="#p59" stroke="#ff0303" stroke-width="25.9" filter="url(#bl05)"/>
<use href="#p60" stroke="#780404" stroke-width="4.7" stroke-linecap="butt" filter="url(#bl1)" opacity="0.9"/>
<g filter="url(#bl1)"><use href="#p61" stroke="#ff1818" stroke-width="7.9" stroke-linecap="butt" opacity="0.02"/><use href="#p62" stroke="#ff1818" stroke-width="7.9" stroke-linecap="butt" opacity="0.01"/></g>
<g filter="url(#bl05)"><use href="#p61" stroke="#ff3a3a" stroke-width="2.2" stroke-linecap="butt" opacity="0.03"/><use href="#p62" stroke="#ff3a3a" stroke-width="2.2" stroke-linecap="butt" opacity="0.01"/></g>
</g>
<g fill="none" stroke-linecap="round" stroke-linejoin="round" clip-path="url(#c64)">
<use href="#p59" stroke="#c00000" stroke-width="27.5"/>
<use href="#p59" stroke="#ff0303" stroke-width="25.9" filter="url(#bl05)"/>
<use href="#p60" stroke="#780404" stroke-width="4.7" stroke-linecap="butt" filter="url(#bl1)" opacity="0.9"/>
<g filter="url(#bl1)"><use href="#p61" stroke="#ff1818" stroke-width="7.9" stroke-linecap="butt" opacity="0.02"/><use href="#p62" stroke="#ff1818" stroke-width="7.9" stroke-linecap="butt" opacity="0.01"/></g>
<g filter="url(#bl05)"><use href="#p61" stroke="#ff3a3a" stroke-width="2.2" stroke-linecap="butt" opacity="0.03"/><use href="#p62" stroke="#ff3a3a" stroke-width="2.2" stroke-linecap="butt" opacity="0.01"/></g>
</g>
<circle cx="651" cy="719.3" r="19.9" fill="url(#gbA)"/><circle cx="651" cy="719.3" r="19.9" fill="url(#gbB)"/><circle cx="651" cy="719.3" r="19.9" fill="url(#gbD)"/><circle cx="651" cy="719.3" r="19.9" fill="url(#gbC)"/>
<g transform="translate(772.4,688.3) rotate(62.4)"><rect x="0" y="-12.2" width="35.8" height="24.5" fill="url(#gstickr)"/><polygon points="0,-12.2 7.8,-7.9 7.8,7.9 0,12.2" fill="url(#gcapdr)"/></g>
<g fill="none" stroke-linecap="round" stroke-linejoin="round">
<use href="#p65" stroke="#0a4f8c" stroke-width="27.5"/>
<use href="#p65" stroke="#0f6fc0" stroke-width="25.9" filter="url(#bl05)"/>
<use href="#p66" stroke="#082c50" stroke-width="6.0" stroke-linecap="butt" filter="url(#bl1)" opacity="0.9"/>
<g filter="url(#bl1)"><use href="#p67" stroke="#2a94e6" stroke-width="8.9" stroke-linecap="butt" opacity="0.56"/><use href="#p68" stroke="#2a94e6" stroke-width="8.9" stroke-linecap="butt" opacity="0.63"/><use href="#p69" stroke="#2a94e6" stroke-width="8.9" stroke-linecap="butt" opacity="0.56"/></g>
<g filter="url(#bl05)"><use href="#p67" stroke="#52c0ff" stroke-width="2.5" stroke-linecap="butt" opacity="0.80"/><use href="#p68" stroke="#52c0ff" stroke-width="2.5" stroke-linecap="butt" opacity="0.90"/><use href="#p69" stroke="#52c0ff" stroke-width="2.5" stroke-linecap="butt" opacity="0.80"/></g>
</g>
<g fill="none" stroke-linecap="round" stroke-linejoin="round" clip-path="url(#c70)">
<use href="#p65" stroke="#c00000" stroke-width="27.5"/>
<use href="#p65" stroke="#ff0303" stroke-width="25.9" filter="url(#bl05)"/>
<use href="#p66" stroke="#780404" stroke-width="6.0" stroke-linecap="butt" filter="url(#bl1)" opacity="0.9"/>
<g filter="url(#bl1)"><use href="#p67" stroke="#ff1818" stroke-width="8.9" stroke-linecap="butt" opacity="0.56"/><use href="#p68" stroke="#ff1818" stroke-width="8.9" stroke-linecap="butt" opacity="0.63"/><use href="#p69" stroke="#ff1818" stroke-width="8.9" stroke-linecap="butt" opacity="0.56"/></g>
<g filter="url(#bl05)"><use href="#p67" stroke="#ff3a3a" stroke-width="2.5" stroke-linecap="butt" opacity="0.80"/><use href="#p68" stroke="#ff3a3a" stroke-width="2.5" stroke-linecap="butt" opacity="0.90"/><use href="#p69" stroke="#ff3a3a" stroke-width="2.5" stroke-linecap="butt" opacity="0.80"/></g>
</g>
<g fill="none" stroke-linecap="round" stroke-linejoin="round" clip-path="url(#c71)">
<use href="#p65" stroke="#c00000" stroke-width="27.5"/>
<use href="#p65" stroke="#ff0303" stroke-width="25.9" filter="url(#bl05)"/>
<use href="#p66" stroke="#780404" stroke-width="6.0" stroke-linecap="butt" filter="url(#bl1)" opacity="0.9"/>
<g filter="url(#bl1)"><use href="#p67" stroke="#ff1818" stroke-width="8.9" stroke-linecap="butt" opacity="0.56"/><use href="#p68" stroke="#ff1818" stroke-width="8.9" stroke-linecap="butt" opacity="0.63"/><use href="#p69" stroke="#ff1818" stroke-width="8.9" stroke-linecap="butt" opacity="0.56"/></g>
<g filter="url(#bl05)"><use href="#p67" stroke="#ff3a3a" stroke-width="2.5" stroke-linecap="butt" opacity="0.80"/><use href="#p68" stroke="#ff3a3a" stroke-width="2.5" stroke-linecap="butt" opacity="0.90"/><use href="#p69" stroke="#ff3a3a" stroke-width="2.5" stroke-linecap="butt" opacity="0.80"/></g>
</g>
<circle cx="766.4" cy="658.9" r="19.9" fill="url(#gbA)"/><circle cx="766.4" cy="658.9" r="19.9" fill="url(#gbB)"/><circle cx="766.4" cy="658.9" r="19.9" fill="url(#gbD)"/><circle cx="766.4" cy="658.9" r="19.9" fill="url(#gbC)"/>
<g transform="translate(1014.3,685.1) rotate(-61.9)"><rect x="0" y="-11.2" width="37.5" height="22.5" fill="url(#gstickr)"/><polygon points="0,-11.2 7.2,-7.3 7.2,7.3 0,11.2" fill="url(#gcapdr)"/></g>
<g fill="none" stroke-linecap="round" stroke-linejoin="round">
<use href="#p72" stroke="#0a4f8c" stroke-width="27.5"/>
<use href="#p72" stroke="#0f6fc0" stroke-width="25.9" filter="url(#bl05)"/>
<use href="#p73" stroke="#082c50" stroke-width="5.5" stroke-linecap="butt" filter="url(#bl1)" opacity="0.55"/>
<g filter="url(#bl1)"><use href="#p74" stroke="#2a94e6" stroke-width="7.9" stroke-linecap="butt" opacity="0.01"/></g>
<g filter="url(#bl05)"><use href="#p74" stroke="#52c0ff" stroke-width="2.2" stroke-linecap="butt" opacity="0.01"/></g>
</g>
<g fill="none" stroke-linecap="round" stroke-linejoin="round" clip-path="url(#c75)">
<use href="#p72" stroke="#c00000" stroke-width="27.5"/>
<use href="#p72" stroke="#ff0303" stroke-width="25.9" filter="url(#bl05)"/>
<use href="#p73" stroke="#780404" stroke-width="5.5" stroke-linecap="butt" filter="url(#bl1)" opacity="0.55"/>
<g filter="url(#bl1)"><use href="#p74" stroke="#ff1818" stroke-width="7.9" stroke-linecap="butt" opacity="0.01"/></g>
<g filter="url(#bl05)"><use href="#p74" stroke="#ff3a3a" stroke-width="2.2" stroke-linecap="butt" opacity="0.01"/></g>
</g>
<circle cx="1019.4" cy="718.4" r="20.3" fill="url(#gbA)"/><circle cx="1019.4" cy="718.4" r="20.3" fill="url(#gbB)"/><circle cx="1019.4" cy="718.4" r="20.3" fill="url(#gbD)"/><circle cx="1019.4" cy="718.4" r="20.3" fill="url(#gbC)"/>
<g transform="translate(921.0,773.8) rotate(80.9)"><rect x="0" y="-11.2" width="31.6" height="22.5" fill="url(#gstick)"/><polygon points="0,-11.2 7.2,-7.3 7.2,7.3 0,11.2" fill="url(#gcap)"/></g>
<g fill="none" stroke-linecap="round" stroke-linejoin="round">
<use href="#p76" stroke="#0a4f8c" stroke-width="27.5"/>
<use href="#p76" stroke="#0f6fc0" stroke-width="25.9" filter="url(#bl05)"/>
<use href="#p77" stroke="#082c50" stroke-width="5.0" stroke-linecap="butt" filter="url(#bl1)" opacity="0.9"/>
<g filter="url(#bl1)"><use href="#p78" stroke="#2a94e6" stroke-width="7.9" stroke-linecap="butt" opacity="0.39"/><use href="#p79" stroke="#2a94e6" stroke-width="7.9" stroke-linecap="butt" opacity="0.34"/><use href="#p80" stroke="#2a94e6" stroke-width="7.9" stroke-linecap="butt" opacity="0.28"/><use href="#p81" stroke="#2a94e6" stroke-width="7.9" stroke-linecap="butt" opacity="0.22"/><use href="#p82" stroke="#2a94e6" stroke-width="7.9" stroke-linecap="butt" opacity="0.17"/><use href="#p83" stroke="#2a94e6" stroke-width="7.9" stroke-linecap="butt" opacity="0.11"/></g>
<g filter="url(#bl05)"><use href="#p78" stroke="#52c0ff" stroke-width="2.2" stroke-linecap="butt" opacity="0.56"/><use href="#p79" stroke="#52c0ff" stroke-width="2.2" stroke-linecap="butt" opacity="0.48"/><use href="#p80" stroke="#52c0ff" stroke-width="2.2" stroke-linecap="butt" opacity="0.40"/><use href="#p81" stroke="#52c0ff" stroke-width="2.2" stroke-linecap="butt" opacity="0.32"/><use href="#p82" stroke="#52c0ff" stroke-width="2.2" stroke-linecap="butt" opacity="0.24"/><use href="#p83" stroke="#52c0ff" stroke-width="2.2" stroke-linecap="butt" opacity="0.16"/></g>
</g>
<g fill="none" stroke-linecap="round" stroke-linejoin="round" clip-path="url(#c84)">
<use href="#p76" stroke="#c00000" stroke-width="27.5"/>
<use href="#p76" stroke="#ff0303" stroke-width="25.9" filter="url(#bl05)"/>
<use href="#p77" stroke="#780404" stroke-width="5.0" stroke-linecap="butt" filter="url(#bl1)" opacity="0.9"/>
<g filter="url(#bl1)"><use href="#p78" stroke="#ff1818" stroke-width="7.9" stroke-linecap="butt" opacity="0.39"/><use href="#p79" stroke="#ff1818" stroke-width="7.9" stroke-linecap="butt" opacity="0.34"/><use href="#p80" stroke="#ff1818" stroke-width="7.9" stroke-linecap="butt" opacity="0.28"/><use href="#p81" stroke="#ff1818" stroke-width="7.9" stroke-linecap="butt" opacity="0.22"/><use href="#p82" stroke="#ff1818" stroke-width="7.9" stroke-linecap="butt" opacity="0.17"/><use href="#p83" stroke="#ff1818" stroke-width="7.9" stroke-linecap="butt" opacity="0.11"/></g>
<g filter="url(#bl05)"><use href="#p78" stroke="#ff3a3a" stroke-width="2.2" stroke-linecap="butt" opacity="0.56"/><use href="#p79" stroke="#ff3a3a" stroke-width="2.2" stroke-linecap="butt" opacity="0.48"/><use href="#p80" stroke="#ff3a3a" stroke-width="2.2" stroke-linecap="butt" opacity="0.40"/><use href="#p81" stroke="#ff3a3a" stroke-width="2.2" stroke-linecap="butt" opacity="0.32"/><use href="#p82" stroke="#ff3a3a" stroke-width="2.2" stroke-linecap="butt" opacity="0.24"/><use href="#p83" stroke="#ff3a3a" stroke-width="2.2" stroke-linecap="butt" opacity="0.16"/></g>
</g>
<g fill="none" stroke-linecap="round" stroke-linejoin="round" clip-path="url(#c85)">
<use href="#p76" stroke="#c00000" stroke-width="27.5"/>
<use href="#p76" stroke="#ff0303" stroke-width="25.9" filter="url(#bl05)"/>
<use href="#p77" stroke="#780404" stroke-width="5.0" stroke-linecap="butt" filter="url(#bl1)" opacity="0.9"/>
<g filter="url(#bl1)"><use href="#p78" stroke="#ff1818" stroke-width="7.9" stroke-linecap="butt" opacity="0.39"/><use href="#p79" stroke="#ff1818" stroke-width="7.9" stroke-linecap="butt" opacity="0.34"/><use href="#p80" stroke="#ff1818" stroke-width="7.9" stroke-linecap="butt" opacity="0.28"/><use href="#p81" stroke="#ff1818" stroke-width="7.9" stroke-linecap="butt" opacity="0.22"/><use href="#p82" stroke="#ff1818" stroke-width="7.9" stroke-linecap="butt" opacity="0.17"/><use href="#p83" stroke="#ff1818" stroke-width="7.9" stroke-linecap="butt" opacity="0.11"/></g>
<g filter="url(#bl05)"><use href="#p78" stroke="#ff3a3a" stroke-width="2.2" stroke-linecap="butt" opacity="0.56"/><use href="#p79" stroke="#ff3a3a" stroke-width="2.2" stroke-linecap="butt" opacity="0.48"/><use href="#p80" stroke="#ff3a3a" stroke-width="2.2" stroke-linecap="butt" opacity="0.40"/><use href="#p81" stroke="#ff3a3a" stroke-width="2.2" stroke-linecap="butt" opacity="0.32"/><use href="#p82" stroke="#ff3a3a" stroke-width="2.2" stroke-linecap="butt" opacity="0.24"/><use href="#p83" stroke="#ff3a3a" stroke-width="2.2" stroke-linecap="butt" opacity="0.16"/></g>
</g>
<circle cx="922.4" cy="745.4" r="20.3" fill="url(#gbA)"/><circle cx="922.4" cy="745.4" r="20.3" fill="url(#gbB)"/><circle cx="922.4" cy="745.4" r="20.3" fill="url(#gbD)"/><circle cx="922.4" cy="745.4" r="20.3" fill="url(#gbC)"/>
<path d="M83.0 1023.9L85.8 1022.8L88.6 1021.8L91.5 1020.9L94.4 1020.1L97.3 1019.4L100.2 1018.8L103.2 1018.4L106.2 1018.0L109.2 1017.8L112.2 1017.7L115.2 1017.6L118.2 1017.7L121.2 1017.9L124.2 1018.1L127.1 1018.5L130.1 1019.0L133.1 1019.5L136.0 1020.1L138.9 1020.9L141.8 1021.7L144.7 1022.5L147.5 1023.5L150.3 1024.5L153.1 1025.6L155.9 1026.8" fill="none" stroke="#7a0000" stroke-width="27" stroke-linecap="round" stroke-linejoin="round"/>
<path d="M83.0 1023.9L85.8 1022.8L88.6 1021.8L91.5 1020.9L94.4 1020.1L97.3 1019.4L100.2 1018.8L103.2 1018.4L106.2 1018.0L109.2 1017.8L112.2 1017.7L115.2 1017.6L118.2 1017.7L121.2 1017.9L124.2 1018.1L127.1 1018.5L130.1 1019.0L133.1 1019.5L136.0 1020.1L138.9 1020.9L141.8 1021.7L144.7 1022.5L147.5 1023.5L150.3 1024.5L153.1 1025.6L155.9 1026.8" fill="none" stroke="url(#glr)" stroke-width="25" stroke-linecap="round" stroke-linejoin="round" filter="url(#bl05)"/>
<path d="M468.1 1026.7L471.0 1027.7L473.9 1028.6L476.8 1029.5L479.8 1030.2L482.8 1030.9L485.8 1031.5L488.8 1032.0L491.8 1032.4L494.9 1032.7L497.9 1032.9L501.0 1033.0L504.0 1033.0L507.1 1032.9L510.1 1032.8L513.2 1032.5L516.2 1032.1L519.2 1031.6L522.2 1031.1L525.2 1030.4L528.2 1029.6L531.1 1028.7L534.0 1027.8L536.9 1026.7L539.7 1025.5" fill="none" stroke="#0a3a66" stroke-width="27" stroke-linecap="round" stroke-linejoin="round"/>
<path d="M468.1 1026.7L471.0 1027.7L473.9 1028.6L476.8 1029.5L479.8 1030.2L482.8 1030.9L485.8 1031.5L488.8 1032.0L491.8 1032.4L494.9 1032.7L497.9 1032.9L501.0 1033.0L504.0 1033.0L507.1 1032.9L510.1 1032.8L513.2 1032.5L516.2 1032.1L519.2 1031.6L522.2 1031.1L525.2 1030.4L528.2 1029.6L531.1 1028.7L534.0 1027.8L536.9 1026.7L539.7 1025.5" fill="none" stroke="url(#glb)" stroke-width="25" stroke-linecap="round" stroke-linejoin="round" filter="url(#bl05)"/>
<circle cx="911.9" cy="1027.4" r="21.7" fill="url(#gbA)"/><circle cx="911.9" cy="1027.4" r="21.7" fill="url(#gbB)"/><circle cx="911.9" cy="1027.4" r="21.7" fill="url(#gbD)"/><circle cx="911.9" cy="1027.4" r="21.7" fill="url(#gbC2)"/>
<polygon points="556,357 589,357 589,568 606,568 572.5,601 539,568 556,568" fill="#000" stroke="#2f528f" stroke-width="1.8"/>
<text x="300.3" y="481.3" font-size="42">Degradation</text>
<text x="646.8" y="481.6" font-size="42">Hydrolyzation</text>
<text x="183" y="1040" font-size="37.9">: Polyester</text>
<text x="567" y="1040" font-size="37.9">: Polyacrylate</text>
<text x="950" y="1040.5" font-size="37.9">: Antifoulant</text>
<rect x="1150" y="0" width="62" height="1087" fill="#000"/>
</svg>
</body></html>
